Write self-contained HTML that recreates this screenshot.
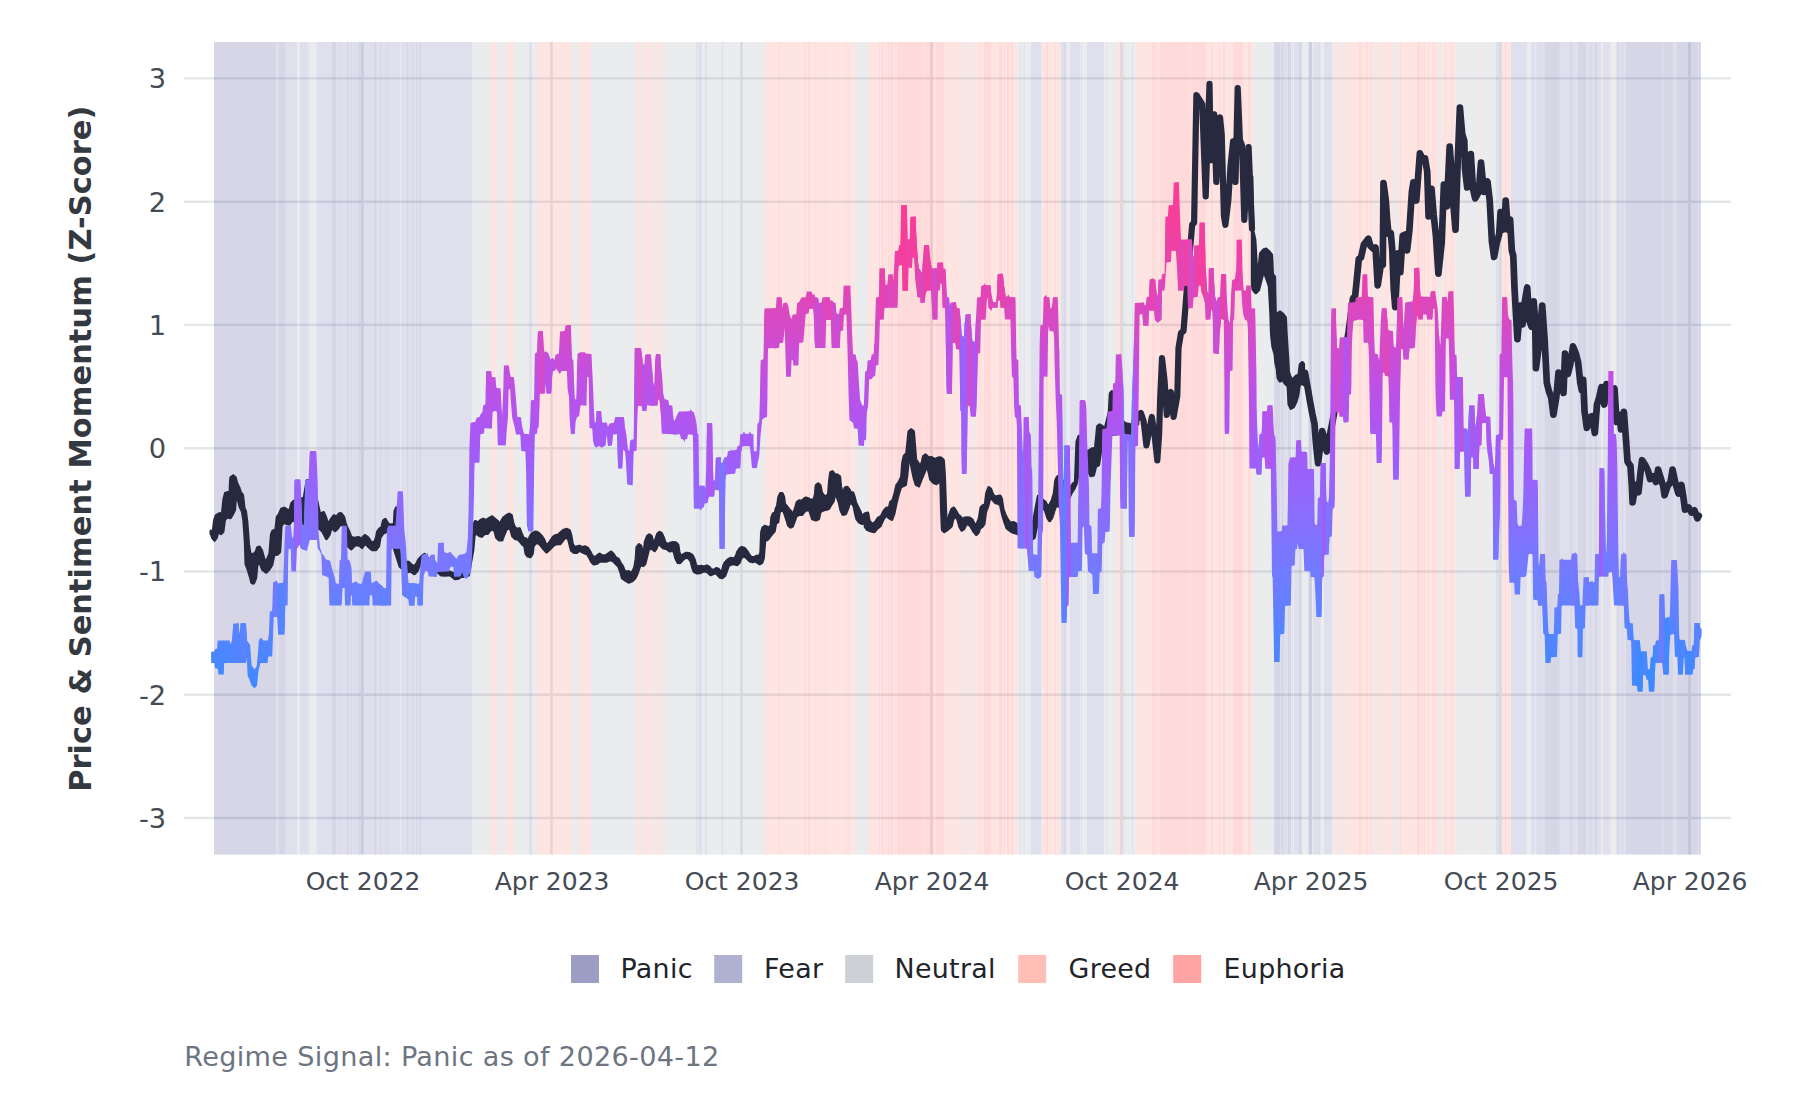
<!DOCTYPE html>
<html lang="en"><head><meta charset="utf-8"><title>Price &amp; Sentiment Momentum</title>
<style>html,body{margin:0;padding:0;background:#fff}body{width:1800px;height:1100px;overflow:hidden}svg{display:block}text{font-family:"DejaVu Sans","Liberation Sans",sans-serif}</style></head><body>
<svg width="1800" height="1100" viewBox="0 0 1800 1100">
<rect width="1800" height="1100" fill="#ffffff"/>
<g stroke="#e3e7ea" stroke-width="2.4" fill="none">
<line x1="184.0" x2="1731.0" y1="818.0" y2="818.0"/>
<line x1="184.0" x2="1731.0" y1="694.7" y2="694.7"/>
<line x1="184.0" x2="1731.0" y1="571.5" y2="571.5"/>
<line x1="184.0" x2="1731.0" y1="448.2" y2="448.2"/>
<line x1="184.0" x2="1731.0" y1="324.9" y2="324.9"/>
<line x1="184.0" x2="1731.0" y1="201.7" y2="201.7"/>
<line x1="184.0" x2="1731.0" y1="78.4" y2="78.4"/>
<line x1="362.5" x2="362.5" y1="42.0" y2="854.6"/>
<line x1="551.5" x2="551.5" y1="42.0" y2="854.6"/>
<line x1="741.5" x2="741.5" y1="42.0" y2="854.6"/>
<line x1="931.5" x2="931.5" y1="42.0" y2="854.6"/>
<line x1="1121.5" x2="1121.5" y1="42.0" y2="854.6"/>
<line x1="1310.5" x2="1310.5" y1="42.0" y2="854.6"/>
<line x1="1500.5" x2="1500.5" y1="42.0" y2="854.6"/>
<line x1="1689.5" x2="1689.5" y1="42.0" y2="854.6"/>
</g>
<g fill-opacity="0.2">
<rect x="214.00" y="42.0" width="62.00" height="812.6" fill="#373287"/>
<rect x="276.00" y="42.0" width="2.90" height="812.6" fill="#6161a3"/>
<rect x="278.90" y="42.0" width="6.40" height="812.6" fill="#373287"/>
<rect x="285.30" y="42.0" width="11.60" height="812.6" fill="#6161a3"/>
<rect x="296.90" y="42.0" width="3.10" height="812.6" fill="#9ba1ab"/>
<rect x="300.00" y="42.0" width="8.00" height="812.6" fill="#6161a3"/>
<rect x="308.00" y="42.0" width="1.20" height="812.6" fill="#9ba1ab"/>
<rect x="309.20" y="42.0" width="0.80" height="812.6" fill="#6161a3"/>
<rect x="310.00" y="42.0" width="6.90" height="812.6" fill="#9ba1ab"/>
<rect x="316.90" y="42.0" width="15.10" height="812.6" fill="#6161a3"/>
<rect x="332.00" y="42.0" width="4.00" height="812.6" fill="#373287"/>
<rect x="336.00" y="42.0" width="3.00" height="812.6" fill="#6161a3"/>
<rect x="339.00" y="42.0" width="0.80" height="812.6" fill="#373287"/>
<rect x="339.80" y="42.0" width="7.30" height="812.6" fill="#6161a3"/>
<rect x="347.10" y="42.0" width="1.80" height="812.6" fill="#373287"/>
<rect x="348.90" y="42.0" width="2.20" height="812.6" fill="#6161a3"/>
<rect x="351.10" y="42.0" width="0.90" height="812.6" fill="#373287"/>
<rect x="352.00" y="42.0" width="3.60" height="812.6" fill="#6161a3"/>
<rect x="355.60" y="42.0" width="0.80" height="812.6" fill="#373287"/>
<rect x="356.40" y="42.0" width="1.80" height="812.6" fill="#6161a3"/>
<rect x="358.20" y="42.0" width="3.10" height="812.6" fill="#373287"/>
<rect x="361.30" y="42.0" width="12.90" height="812.6" fill="#6161a3"/>
<rect x="374.20" y="42.0" width="2.20" height="812.6" fill="#373287"/>
<rect x="376.40" y="42.0" width="3.60" height="812.6" fill="#6161a3"/>
<rect x="380.00" y="42.0" width="0.90" height="812.6" fill="#373287"/>
<rect x="380.90" y="42.0" width="4.40" height="812.6" fill="#6161a3"/>
<rect x="385.30" y="42.0" width="0.90" height="812.6" fill="#373287"/>
<rect x="386.20" y="42.0" width="1.80" height="812.6" fill="#6161a3"/>
<rect x="388.00" y="42.0" width="0.70" height="812.6" fill="#373287"/>
<rect x="388.70" y="42.0" width="11.30" height="812.6" fill="#6161a3"/>
<rect x="400.00" y="42.0" width="0.90" height="812.6" fill="#9ba1ab"/>
<rect x="400.90" y="42.0" width="6.20" height="812.6" fill="#6161a3"/>
<rect x="407.10" y="42.0" width="0.90" height="812.6" fill="#373287"/>
<rect x="408.00" y="42.0" width="4.20" height="812.6" fill="#6161a3"/>
<rect x="412.20" y="42.0" width="0.90" height="812.6" fill="#373287"/>
<rect x="413.10" y="42.0" width="2.90" height="812.6" fill="#6161a3"/>
<rect x="416.00" y="42.0" width="1.30" height="812.6" fill="#373287"/>
<rect x="417.30" y="42.0" width="1.80" height="812.6" fill="#6161a3"/>
<rect x="419.10" y="42.0" width="1.80" height="812.6" fill="#373287"/>
<rect x="420.90" y="42.0" width="50.90" height="812.6" fill="#6161a3"/>
<rect x="471.80" y="42.0" width="17.10" height="812.6" fill="#9ba1ab"/>
<rect x="488.90" y="42.0" width="1.10" height="812.6" fill="#ff7f6f"/>
<rect x="490.00" y="42.0" width="2.00" height="812.6" fill="#9ba1ab"/>
<rect x="492.00" y="42.0" width="4.10" height="812.6" fill="#ff7f6f"/>
<rect x="496.10" y="42.0" width="1.90" height="812.6" fill="#9ba1ab"/>
<rect x="498.00" y="42.0" width="1.10" height="812.6" fill="#ff7f6f"/>
<rect x="499.10" y="42.0" width="6.90" height="812.6" fill="#9ba1ab"/>
<rect x="506.00" y="42.0" width="8.00" height="812.6" fill="#ff7f6f"/>
<rect x="514.00" y="42.0" width="15.20" height="812.6" fill="#9ba1ab"/>
<rect x="529.20" y="42.0" width="2.80" height="812.6" fill="#6161a3"/>
<rect x="532.00" y="42.0" width="4.90" height="812.6" fill="#9ba1ab"/>
<rect x="536.90" y="42.0" width="35.10" height="812.6" fill="#ff7f6f"/>
<rect x="572.00" y="42.0" width="6.80" height="812.6" fill="#9ba1ab"/>
<rect x="578.80" y="42.0" width="5.20" height="812.6" fill="#ff7f6f"/>
<rect x="584.00" y="42.0" width="1.10" height="812.6" fill="#9ba1ab"/>
<rect x="585.10" y="42.0" width="5.80" height="812.6" fill="#ff7f6f"/>
<rect x="590.90" y="42.0" width="45.10" height="812.6" fill="#9ba1ab"/>
<rect x="636.00" y="42.0" width="5.10" height="812.6" fill="#ff7f6f"/>
<rect x="641.10" y="42.0" width="1.10" height="812.6" fill="#9ba1ab"/>
<rect x="642.20" y="42.0" width="1.80" height="812.6" fill="#ff7f6f"/>
<rect x="644.00" y="42.0" width="2.00" height="812.6" fill="#9ba1ab"/>
<rect x="646.00" y="42.0" width="6.20" height="812.6" fill="#ff7f6f"/>
<rect x="652.20" y="42.0" width="1.80" height="812.6" fill="#9ba1ab"/>
<rect x="654.00" y="42.0" width="1.30" height="812.6" fill="#ff7f6f"/>
<rect x="655.30" y="42.0" width="1.60" height="812.6" fill="#9ba1ab"/>
<rect x="656.90" y="42.0" width="4.20" height="812.6" fill="#ff7f6f"/>
<rect x="661.10" y="42.0" width="0.90" height="812.6" fill="#9ba1ab"/>
<rect x="662.00" y="42.0" width="1.10" height="812.6" fill="#ff7f6f"/>
<rect x="663.10" y="42.0" width="32.90" height="812.6" fill="#9ba1ab"/>
<rect x="696.00" y="42.0" width="1.20" height="812.6" fill="#6161a3"/>
<rect x="697.20" y="42.0" width="1.00" height="812.6" fill="#9ba1ab"/>
<rect x="698.20" y="42.0" width="3.60" height="812.6" fill="#6161a3"/>
<rect x="701.80" y="42.0" width="3.40" height="812.6" fill="#9ba1ab"/>
<rect x="705.20" y="42.0" width="1.70" height="812.6" fill="#6161a3"/>
<rect x="706.90" y="42.0" width="14.90" height="812.6" fill="#9ba1ab"/>
<rect x="721.80" y="42.0" width="1.30" height="812.6" fill="#6161a3"/>
<rect x="723.10" y="42.0" width="39.90" height="812.6" fill="#9ba1ab"/>
<rect x="763.00" y="42.0" width="1.10" height="812.6" fill="#ff7f6f"/>
<rect x="764.10" y="42.0" width="1.80" height="812.6" fill="#9ba1ab"/>
<rect x="765.90" y="42.0" width="12.80" height="812.6" fill="#ff7f6f"/>
<rect x="778.70" y="42.0" width="1.30" height="812.6" fill="#ff4747"/>
<rect x="780.00" y="42.0" width="24.00" height="812.6" fill="#ff7f6f"/>
<rect x="804.00" y="42.0" width="0.90" height="812.6" fill="#ff4747"/>
<rect x="804.90" y="42.0" width="0.90" height="812.6" fill="#ff7f6f"/>
<rect x="805.80" y="42.0" width="0.80" height="812.6" fill="#ff4747"/>
<rect x="806.60" y="42.0" width="1.40" height="812.6" fill="#ff7f6f"/>
<rect x="808.00" y="42.0" width="1.80" height="812.6" fill="#ff4747"/>
<rect x="809.80" y="42.0" width="5.50" height="812.6" fill="#ff7f6f"/>
<rect x="815.30" y="42.0" width="1.10" height="812.6" fill="#ff4747"/>
<rect x="816.40" y="42.0" width="8.90" height="812.6" fill="#ff7f6f"/>
<rect x="825.30" y="42.0" width="0.90" height="812.6" fill="#ff4747"/>
<rect x="826.20" y="42.0" width="19.80" height="812.6" fill="#ff7f6f"/>
<rect x="846.00" y="42.0" width="0.90" height="812.6" fill="#ff4747"/>
<rect x="846.90" y="42.0" width="1.10" height="812.6" fill="#ff7f6f"/>
<rect x="848.00" y="42.0" width="0.70" height="812.6" fill="#ff4747"/>
<rect x="848.70" y="42.0" width="3.30" height="812.6" fill="#ff7f6f"/>
<rect x="852.00" y="42.0" width="1.20" height="812.6" fill="#9ba1ab"/>
<rect x="853.20" y="42.0" width="2.80" height="812.6" fill="#ff7f6f"/>
<rect x="856.00" y="42.0" width="11.80" height="812.6" fill="#9ba1ab"/>
<rect x="867.80" y="42.0" width="11.30" height="812.6" fill="#ff7f6f"/>
<rect x="879.10" y="42.0" width="0.90" height="812.6" fill="#ff4747"/>
<rect x="880.00" y="42.0" width="1.80" height="812.6" fill="#ff7f6f"/>
<rect x="881.80" y="42.0" width="1.90" height="812.6" fill="#ff4747"/>
<rect x="883.70" y="42.0" width="2.50" height="812.6" fill="#ff7f6f"/>
<rect x="886.20" y="42.0" width="0.90" height="812.6" fill="#ff4747"/>
<rect x="887.10" y="42.0" width="0.90" height="812.6" fill="#ff7f6f"/>
<rect x="888.00" y="42.0" width="1.10" height="812.6" fill="#ff4747"/>
<rect x="889.10" y="42.0" width="1.10" height="812.6" fill="#ff7f6f"/>
<rect x="890.20" y="42.0" width="3.10" height="812.6" fill="#ff4747"/>
<rect x="893.30" y="42.0" width="1.80" height="812.6" fill="#ff7f6f"/>
<rect x="895.10" y="42.0" width="0.90" height="812.6" fill="#ff4747"/>
<rect x="896.00" y="42.0" width="0.90" height="812.6" fill="#ff7f6f"/>
<rect x="896.90" y="42.0" width="26.00" height="812.6" fill="#ff4747"/>
<rect x="922.90" y="42.0" width="1.10" height="812.6" fill="#ff7f6f"/>
<rect x="924.00" y="42.0" width="9.80" height="812.6" fill="#ff4747"/>
<rect x="933.80" y="42.0" width="2.00" height="812.6" fill="#ff7f6f"/>
<rect x="935.80" y="42.0" width="8.20" height="812.6" fill="#ff4747"/>
<rect x="944.00" y="42.0" width="19.10" height="812.6" fill="#ff7f6f"/>
<rect x="963.10" y="42.0" width="2.90" height="812.6" fill="#9ba1ab"/>
<rect x="966.00" y="42.0" width="4.90" height="812.6" fill="#ff7f6f"/>
<rect x="970.90" y="42.0" width="1.10" height="812.6" fill="#9ba1ab"/>
<rect x="972.00" y="42.0" width="0.90" height="812.6" fill="#ff7f6f"/>
<rect x="972.90" y="42.0" width="2.00" height="812.6" fill="#9ba1ab"/>
<rect x="974.90" y="42.0" width="5.10" height="812.6" fill="#ff7f6f"/>
<rect x="980.00" y="42.0" width="0.90" height="812.6" fill="#ff4747"/>
<rect x="980.90" y="42.0" width="3.10" height="812.6" fill="#ff7f6f"/>
<rect x="984.00" y="42.0" width="7.10" height="812.6" fill="#ff4747"/>
<rect x="991.10" y="42.0" width="7.70" height="812.6" fill="#ff7f6f"/>
<rect x="998.80" y="42.0" width="3.20" height="812.6" fill="#ff4747"/>
<rect x="1002.00" y="42.0" width="2.00" height="812.6" fill="#ff7f6f"/>
<rect x="1004.00" y="42.0" width="1.10" height="812.6" fill="#ff4747"/>
<rect x="1005.10" y="42.0" width="2.00" height="812.6" fill="#ff7f6f"/>
<rect x="1007.10" y="42.0" width="2.00" height="812.6" fill="#ff4747"/>
<rect x="1009.10" y="42.0" width="2.00" height="812.6" fill="#ff7f6f"/>
<rect x="1011.10" y="42.0" width="1.80" height="812.6" fill="#ff4747"/>
<rect x="1012.90" y="42.0" width="4.30" height="812.6" fill="#ff7f6f"/>
<rect x="1017.20" y="42.0" width="2.80" height="812.6" fill="#9ba1ab"/>
<rect x="1020.00" y="42.0" width="0.90" height="812.6" fill="#6161a3"/>
<rect x="1020.90" y="42.0" width="2.90" height="812.6" fill="#9ba1ab"/>
<rect x="1023.80" y="42.0" width="0.90" height="812.6" fill="#6161a3"/>
<rect x="1024.70" y="42.0" width="6.40" height="812.6" fill="#9ba1ab"/>
<rect x="1031.10" y="42.0" width="10.00" height="812.6" fill="#6161a3"/>
<rect x="1041.10" y="42.0" width="0.90" height="812.6" fill="#9ba1ab"/>
<rect x="1042.00" y="42.0" width="4.00" height="812.6" fill="#ff7f6f"/>
<rect x="1046.00" y="42.0" width="2.00" height="812.6" fill="#ff4747"/>
<rect x="1048.00" y="42.0" width="6.90" height="812.6" fill="#ff7f6f"/>
<rect x="1054.90" y="42.0" width="1.10" height="812.6" fill="#ff4747"/>
<rect x="1056.00" y="42.0" width="2.90" height="812.6" fill="#ff7f6f"/>
<rect x="1058.90" y="42.0" width="1.10" height="812.6" fill="#9ba1ab"/>
<rect x="1060.00" y="42.0" width="1.10" height="812.6" fill="#ff7f6f"/>
<rect x="1061.10" y="42.0" width="2.90" height="812.6" fill="#6161a3"/>
<rect x="1064.00" y="42.0" width="1.00" height="812.6" fill="#373287"/>
<rect x="1065.00" y="42.0" width="1.90" height="812.6" fill="#6161a3"/>
<rect x="1066.90" y="42.0" width="3.30" height="812.6" fill="#9ba1ab"/>
<rect x="1070.20" y="42.0" width="9.80" height="812.6" fill="#6161a3"/>
<rect x="1080.00" y="42.0" width="0.90" height="812.6" fill="#9ba1ab"/>
<rect x="1080.90" y="42.0" width="0.90" height="812.6" fill="#6161a3"/>
<rect x="1081.80" y="42.0" width="5.30" height="812.6" fill="#9ba1ab"/>
<rect x="1087.10" y="42.0" width="16.70" height="812.6" fill="#6161a3"/>
<rect x="1103.80" y="42.0" width="3.00" height="812.6" fill="#9ba1ab"/>
<rect x="1106.80" y="42.0" width="0.90" height="812.6" fill="#6161a3"/>
<rect x="1107.70" y="42.0" width="8.30" height="812.6" fill="#9ba1ab"/>
<rect x="1116.00" y="42.0" width="1.20" height="812.6" fill="#ff7f6f"/>
<rect x="1117.20" y="42.0" width="1.00" height="812.6" fill="#9ba1ab"/>
<rect x="1118.20" y="42.0" width="3.60" height="812.6" fill="#ff7f6f"/>
<rect x="1121.80" y="42.0" width="1.80" height="812.6" fill="#9ba1ab"/>
<rect x="1123.60" y="42.0" width="1.00" height="812.6" fill="#6161a3"/>
<rect x="1124.60" y="42.0" width="7.40" height="812.6" fill="#9ba1ab"/>
<rect x="1132.00" y="42.0" width="1.00" height="812.6" fill="#6161a3"/>
<rect x="1133.00" y="42.0" width="3.00" height="812.6" fill="#9ba1ab"/>
<rect x="1136.00" y="42.0" width="16.00" height="812.6" fill="#ff7f6f"/>
<rect x="1152.00" y="42.0" width="2.80" height="812.6" fill="#ff4747"/>
<rect x="1154.80" y="42.0" width="1.20" height="812.6" fill="#ff7f6f"/>
<rect x="1156.00" y="42.0" width="1.20" height="812.6" fill="#ff4747"/>
<rect x="1157.20" y="42.0" width="2.80" height="812.6" fill="#ff7f6f"/>
<rect x="1160.00" y="42.0" width="30.00" height="812.6" fill="#ff4747"/>
<rect x="1190.00" y="42.0" width="1.10" height="812.6" fill="#ff7f6f"/>
<rect x="1191.10" y="42.0" width="14.90" height="812.6" fill="#ff4747"/>
<rect x="1206.00" y="42.0" width="4.90" height="812.6" fill="#ff7f6f"/>
<rect x="1210.90" y="42.0" width="1.80" height="812.6" fill="#ff4747"/>
<rect x="1212.70" y="42.0" width="6.40" height="812.6" fill="#ff7f6f"/>
<rect x="1219.10" y="42.0" width="0.90" height="812.6" fill="#ff4747"/>
<rect x="1220.00" y="42.0" width="3.10" height="812.6" fill="#ff7f6f"/>
<rect x="1223.10" y="42.0" width="2.10" height="812.6" fill="#ff4747"/>
<rect x="1225.20" y="42.0" width="1.70" height="812.6" fill="#ff7f6f"/>
<rect x="1226.90" y="42.0" width="1.10" height="812.6" fill="#9ba1ab"/>
<rect x="1228.00" y="42.0" width="5.10" height="812.6" fill="#ff7f6f"/>
<rect x="1233.10" y="42.0" width="10.00" height="812.6" fill="#ff4747"/>
<rect x="1243.10" y="42.0" width="4.90" height="812.6" fill="#ff7f6f"/>
<rect x="1248.00" y="42.0" width="2.20" height="812.6" fill="#ff4747"/>
<rect x="1250.20" y="42.0" width="2.00" height="812.6" fill="#ff7f6f"/>
<rect x="1252.20" y="42.0" width="0.90" height="812.6" fill="#9ba1ab"/>
<rect x="1253.10" y="42.0" width="0.90" height="812.6" fill="#ff7f6f"/>
<rect x="1254.00" y="42.0" width="20.20" height="812.6" fill="#9ba1ab"/>
<rect x="1274.20" y="42.0" width="5.80" height="812.6" fill="#373287"/>
<rect x="1280.00" y="42.0" width="1.30" height="812.6" fill="#6161a3"/>
<rect x="1281.30" y="42.0" width="2.30" height="812.6" fill="#373287"/>
<rect x="1283.60" y="42.0" width="4.40" height="812.6" fill="#6161a3"/>
<rect x="1288.00" y="42.0" width="2.90" height="812.6" fill="#373287"/>
<rect x="1290.90" y="42.0" width="1.10" height="812.6" fill="#9ba1ab"/>
<rect x="1292.00" y="42.0" width="1.10" height="812.6" fill="#6161a3"/>
<rect x="1293.10" y="42.0" width="0.90" height="812.6" fill="#9ba1ab"/>
<rect x="1294.00" y="42.0" width="5.10" height="812.6" fill="#6161a3"/>
<rect x="1299.10" y="42.0" width="2.70" height="812.6" fill="#373287"/>
<rect x="1301.80" y="42.0" width="6.20" height="812.6" fill="#9ba1ab"/>
<rect x="1308.00" y="42.0" width="4.00" height="812.6" fill="#6161a3"/>
<rect x="1312.00" y="42.0" width="0.90" height="812.6" fill="#9ba1ab"/>
<rect x="1312.90" y="42.0" width="6.70" height="812.6" fill="#6161a3"/>
<rect x="1319.60" y="42.0" width="0.80" height="812.6" fill="#373287"/>
<rect x="1320.40" y="42.0" width="3.60" height="812.6" fill="#9ba1ab"/>
<rect x="1324.00" y="42.0" width="8.00" height="812.6" fill="#6161a3"/>
<rect x="1332.00" y="42.0" width="2.00" height="812.6" fill="#9ba1ab"/>
<rect x="1334.00" y="42.0" width="4.90" height="812.6" fill="#ff7f6f"/>
<rect x="1338.90" y="42.0" width="1.10" height="812.6" fill="#9ba1ab"/>
<rect x="1340.00" y="42.0" width="1.10" height="812.6" fill="#ff7f6f"/>
<rect x="1341.10" y="42.0" width="2.00" height="812.6" fill="#9ba1ab"/>
<rect x="1343.10" y="42.0" width="2.90" height="812.6" fill="#ff7f6f"/>
<rect x="1346.00" y="42.0" width="0.90" height="812.6" fill="#9ba1ab"/>
<rect x="1346.90" y="42.0" width="12.20" height="812.6" fill="#ff7f6f"/>
<rect x="1359.10" y="42.0" width="2.70" height="812.6" fill="#ff4747"/>
<rect x="1361.80" y="42.0" width="3.50" height="812.6" fill="#ff7f6f"/>
<rect x="1365.30" y="42.0" width="0.90" height="812.6" fill="#ff4747"/>
<rect x="1366.20" y="42.0" width="0.90" height="812.6" fill="#ff7f6f"/>
<rect x="1367.10" y="42.0" width="0.90" height="812.6" fill="#ff4747"/>
<rect x="1368.00" y="42.0" width="2.80" height="812.6" fill="#ff7f6f"/>
<rect x="1370.80" y="42.0" width="1.20" height="812.6" fill="#ff4747"/>
<rect x="1372.00" y="42.0" width="1.10" height="812.6" fill="#ff7f6f"/>
<rect x="1373.10" y="42.0" width="2.00" height="812.6" fill="#9ba1ab"/>
<rect x="1375.10" y="42.0" width="4.00" height="812.6" fill="#ff7f6f"/>
<rect x="1379.10" y="42.0" width="2.00" height="812.6" fill="#9ba1ab"/>
<rect x="1381.10" y="42.0" width="11.10" height="812.6" fill="#ff7f6f"/>
<rect x="1392.20" y="42.0" width="0.90" height="812.6" fill="#9ba1ab"/>
<rect x="1393.10" y="42.0" width="1.10" height="812.6" fill="#ff7f6f"/>
<rect x="1394.20" y="42.0" width="3.80" height="812.6" fill="#9ba1ab"/>
<rect x="1398.00" y="42.0" width="2.00" height="812.6" fill="#ff7f6f"/>
<rect x="1400.00" y="42.0" width="0.90" height="812.6" fill="#ff4747"/>
<rect x="1400.90" y="42.0" width="16.20" height="812.6" fill="#ff7f6f"/>
<rect x="1417.10" y="42.0" width="2.90" height="812.6" fill="#ff4747"/>
<rect x="1420.00" y="42.0" width="1.80" height="812.6" fill="#ff7f6f"/>
<rect x="1421.80" y="42.0" width="0.90" height="812.6" fill="#ff4747"/>
<rect x="1422.70" y="42.0" width="1.30" height="812.6" fill="#ff7f6f"/>
<rect x="1424.00" y="42.0" width="0.90" height="812.6" fill="#ff4747"/>
<rect x="1424.90" y="42.0" width="3.10" height="812.6" fill="#ff7f6f"/>
<rect x="1428.00" y="42.0" width="0.90" height="812.6" fill="#ff4747"/>
<rect x="1428.90" y="42.0" width="4.00" height="812.6" fill="#ff7f6f"/>
<rect x="1432.90" y="42.0" width="1.10" height="812.6" fill="#ff4747"/>
<rect x="1434.00" y="42.0" width="1.10" height="812.6" fill="#ff7f6f"/>
<rect x="1435.10" y="42.0" width="0.90" height="812.6" fill="#ff4747"/>
<rect x="1436.00" y="42.0" width="2.00" height="812.6" fill="#ff7f6f"/>
<rect x="1438.00" y="42.0" width="3.10" height="812.6" fill="#9ba1ab"/>
<rect x="1441.10" y="42.0" width="2.00" height="812.6" fill="#ff7f6f"/>
<rect x="1443.10" y="42.0" width="0.90" height="812.6" fill="#9ba1ab"/>
<rect x="1444.00" y="42.0" width="0.90" height="812.6" fill="#ff7f6f"/>
<rect x="1444.90" y="42.0" width="1.10" height="812.6" fill="#ff4747"/>
<rect x="1446.00" y="42.0" width="5.10" height="812.6" fill="#ff7f6f"/>
<rect x="1451.10" y="42.0" width="1.30" height="812.6" fill="#ff4747"/>
<rect x="1452.40" y="42.0" width="0.70" height="812.6" fill="#ff7f6f"/>
<rect x="1453.10" y="42.0" width="1.10" height="812.6" fill="#9ba1ab"/>
<rect x="1454.20" y="42.0" width="1.80" height="812.6" fill="#ff7f6f"/>
<rect x="1456.00" y="42.0" width="4.00" height="812.6" fill="#9ba1ab"/>
<rect x="1460.00" y="42.0" width="1.10" height="812.6" fill="#ff7f6f"/>
<rect x="1461.10" y="42.0" width="19.80" height="812.6" fill="#9ba1ab"/>
<rect x="1480.90" y="42.0" width="1.10" height="812.6" fill="#ff7f6f"/>
<rect x="1482.00" y="42.0" width="14.00" height="812.6" fill="#9ba1ab"/>
<rect x="1496.00" y="42.0" width="3.10" height="812.6" fill="#6161a3"/>
<rect x="1499.10" y="42.0" width="2.90" height="812.6" fill="#9ba1ab"/>
<rect x="1502.00" y="42.0" width="2.90" height="812.6" fill="#ff7f6f"/>
<rect x="1504.90" y="42.0" width="1.10" height="812.6" fill="#ff4747"/>
<rect x="1506.00" y="42.0" width="5.10" height="812.6" fill="#ff7f6f"/>
<rect x="1511.10" y="42.0" width="15.70" height="812.6" fill="#6161a3"/>
<rect x="1526.80" y="42.0" width="4.30" height="812.6" fill="#9ba1ab"/>
<rect x="1531.10" y="42.0" width="4.00" height="812.6" fill="#6161a3"/>
<rect x="1535.10" y="42.0" width="1.10" height="812.6" fill="#9ba1ab"/>
<rect x="1536.20" y="42.0" width="3.80" height="812.6" fill="#6161a3"/>
<rect x="1540.00" y="42.0" width="0.90" height="812.6" fill="#373287"/>
<rect x="1540.90" y="42.0" width="4.00" height="812.6" fill="#6161a3"/>
<rect x="1544.90" y="42.0" width="14.80" height="812.6" fill="#373287"/>
<rect x="1559.70" y="42.0" width="10.50" height="812.6" fill="#6161a3"/>
<rect x="1570.20" y="42.0" width="2.00" height="812.6" fill="#373287"/>
<rect x="1572.20" y="42.0" width="5.80" height="812.6" fill="#6161a3"/>
<rect x="1578.00" y="42.0" width="8.00" height="812.6" fill="#373287"/>
<rect x="1586.00" y="42.0" width="4.00" height="812.6" fill="#6161a3"/>
<rect x="1590.00" y="42.0" width="1.10" height="812.6" fill="#373287"/>
<rect x="1591.10" y="42.0" width="3.80" height="812.6" fill="#6161a3"/>
<rect x="1594.90" y="42.0" width="2.00" height="812.6" fill="#373287"/>
<rect x="1596.90" y="42.0" width="4.00" height="812.6" fill="#6161a3"/>
<rect x="1600.90" y="42.0" width="2.20" height="812.6" fill="#9ba1ab"/>
<rect x="1603.10" y="42.0" width="7.20" height="812.6" fill="#6161a3"/>
<rect x="1610.30" y="42.0" width="0.60" height="812.6" fill="#9ba1ab"/>
<rect x="1610.90" y="42.0" width="1.10" height="812.6" fill="#ff7f6f"/>
<rect x="1612.00" y="42.0" width="4.00" height="812.6" fill="#9ba1ab"/>
<rect x="1616.00" y="42.0" width="2.00" height="812.6" fill="#6161a3"/>
<rect x="1618.00" y="42.0" width="0.90" height="812.6" fill="#373287"/>
<rect x="1618.90" y="42.0" width="3.10" height="812.6" fill="#6161a3"/>
<rect x="1622.00" y="42.0" width="0.90" height="812.6" fill="#373287"/>
<rect x="1622.90" y="42.0" width="3.10" height="812.6" fill="#6161a3"/>
<rect x="1626.00" y="42.0" width="36.40" height="812.6" fill="#373287"/>
<rect x="1662.40" y="42.0" width="0.90" height="812.6" fill="#6161a3"/>
<rect x="1663.30" y="42.0" width="9.60" height="812.6" fill="#373287"/>
<rect x="1672.90" y="42.0" width="4.00" height="812.6" fill="#6161a3"/>
<rect x="1676.90" y="42.0" width="21.10" height="812.6" fill="#373287"/>
<rect x="1698.00" y="42.0" width="1.00" height="812.6" fill="#6161a3"/>
<rect x="1699.00" y="42.0" width="1.90" height="812.6" fill="#373287"/>
</g>
<defs><linearGradient id="sg" gradientUnits="userSpaceOnUse" x1="0" y1="694.7" x2="0" y2="201.7"><stop offset="0" stop-color="#3b8aff"/><stop offset="0.125" stop-color="#5584ff"/><stop offset="0.25" stop-color="#727bff"/><stop offset="0.375" stop-color="#8c6cfc"/><stop offset="0.5" stop-color="#a45af8"/><stop offset="0.625" stop-color="#bd51e6"/><stop offset="0.75" stop-color="#d64ac6"/><stop offset="0.875" stop-color="#ea42ab"/><stop offset="1" stop-color="#f93d97"/></linearGradient></defs>
<path d="M210.8 530.9L211.6 532.1L211.8 532.3L212.8 531.6L213.1 530.9L214.3 520.9L214.6 519.5L215.8 515.8L216.1 515.4L219.6 513.3L222.1 514.0L222.3 512.5L223.6 500.0L223.8 498.7L225.3 493.1L225.6 492.9L228.1 492.3L228.3 492.3L229.6 494.8L229.8 492.9L230.3 480.9L230.6 477.6L233.3 475.5L233.8 475.9L235.3 477.4L235.6 477.8L236.8 482.8L237.1 483.6L239.1 487.6L239.3 488.3L240.6 492.0L240.8 492.5L242.8 495.1L244.1 506.4L244.3 508.3L245.6 510.8L245.8 511.8L247.1 521.8L247.3 524.7L248.6 542.2L248.8 544.4L250.1 553.1L250.3 553.4L252.8 554.7L253.1 554.7L255.8 551.9L256.1 551.4L257.3 547.6L257.6 547.4L259.6 546.8L261.6 550.1L261.8 550.7L264.6 560.3L264.8 560.6L266.8 560.6L269.6 553.7L269.8 552.1L271.1 535.9L271.3 534.0L272.6 530.9L272.8 530.7L275.3 530.1L275.6 529.8L276.8 518.6L277.1 516.8L279.1 514.2L279.3 513.7L281.3 509.0L281.8 508.8L284.3 507.9L288.1 510.3L289.3 511.1L289.6 510.4L291.3 504.0L291.6 503.1L293.6 501.1L293.8 500.9L303.8 498.1L304.1 497.1L306.8 480.6L312.6 480.6L312.8 481.4L319.8 513.6L320.1 514.0L323.3 512.4L323.6 512.3L325.6 516.6L325.8 517.2L327.8 523.9L328.1 524.0L331.6 518.4L333.6 515.7L333.8 515.5L336.6 516.9L336.8 516.7L338.8 513.7L340.8 513.3L341.1 513.4L343.8 516.8L344.1 517.6L345.3 522.6L346.8 527.1L349.1 531.7L351.1 537.0L351.3 537.3L354.8 538.0L358.3 537.3L358.8 537.5L361.3 538.7L362.1 538.0L364.8 535.3L365.1 535.2L367.8 537.2L368.6 538.3L370.8 541.7L373.6 543.0L373.8 542.9L375.8 538.9L376.1 538.0L377.3 531.7L377.6 531.2L379.6 528.6L381.6 527.2L381.8 526.7L383.1 521.1L383.3 520.5L385.3 519.1L385.6 519.5L387.6 522.8L389.6 524.8L389.8 524.9L394.1 524.2L394.3 520.1L394.8 511.1L396.1 508.0L396.3 507.6L399.1 513.8L399.3 517.6L400.6 550.1L400.8 552.2L406.3 561.8L406.6 562.0L408.6 562.0L409.3 562.7L411.6 564.9L414.3 566.3L414.6 566.2L416.6 563.6L418.8 559.1L421.8 556.1L424.6 554.1L424.8 554.7L425.1 555.4L438.1 567.6L454.1 573.5L467.1 572.0L467.3 570.1L468.6 552.6L468.8 550.0L470.1 538.8L470.3 537.7L473.6 524.7L473.8 523.8L475.1 521.3L475.3 521.2L478.1 522.6L480.3 520.4L483.1 519.0L483.3 519.0L486.1 520.4L489.3 518.0L491.8 516.5L492.1 516.6L495.3 519.3L497.8 521.2L499.8 523.9L500.1 523.7L501.3 521.2L503.6 517.5L506.6 515.2L509.3 513.9L511.3 515.1L511.6 515.4L512.8 521.7L513.1 522.8L514.3 526.5L514.6 527.0L516.6 529.0L517.1 529.0L519.3 528.4L519.6 528.5L521.6 533.8L521.8 534.4L523.8 538.4L524.1 538.6L526.1 538.6L528.1 541.2L528.3 541.3L529.6 537.6L529.8 537.0L531.8 533.6L532.1 533.4L535.6 531.7L538.3 532.7L538.8 533.1L541.3 535.6L544.1 539.7L544.3 540.2L545.6 543.9L545.8 544.4L547.8 544.4L548.1 544.2L550.3 541.1L553.1 537.1L555.1 535.5L555.8 535.3L558.1 534.9L561.1 532.0L563.8 529.9L566.8 529.1L569.6 530.5L569.8 530.9L571.1 535.3L571.3 536.5L572.6 544.0L572.8 544.6L574.8 547.3L579.1 545.9L579.6 546.0L582.1 547.3L585.1 546.6L587.8 548.0L588.1 548.3L590.1 551.6L592.1 555.6L592.3 556.0L595.1 557.4L595.3 557.3L597.3 555.3L599.6 553.9L602.3 555.6L602.6 555.7L606.1 555.3L609.8 552.6L611.1 551.7L611.3 551.8L613.3 553.8L615.6 557.5L618.3 558.9L618.6 559.2L620.6 563.2L622.8 566.2L624.1 570.0L624.3 570.6L626.3 571.9L626.6 572.0L628.6 571.3L629.1 571.7L630.8 573.5L633.1 570.4L634.3 567.9L634.6 567.0L635.8 559.5L636.1 556.4L636.6 548.4L636.8 547.1L638.8 544.4L640.8 545.7L641.1 546.1L642.3 551.1L642.6 551.8L643.8 553.0L644.1 551.5L644.8 543.9L645.1 541.8L647.1 536.5L647.3 536.1L649.3 534.5L650.1 535.0L651.3 536.0L651.6 536.3L652.8 541.3L653.1 542.0L655.1 540.6L655.3 540.2L657.3 534.2L657.8 533.6L659.6 532.1L661.6 533.2L661.8 533.5L663.6 537.5L665.3 542.6L665.6 542.9L668.3 544.2L670.3 542.8L671.1 542.7L673.3 542.3L676.3 542.8L678.1 544.8L678.3 546.0L679.1 551.4L679.3 552.5L680.6 555.7L680.8 555.8L686.3 553.0L686.8 553.0L689.3 553.4L692.1 555.0L692.3 555.2L694.3 559.2L694.6 559.9L695.8 564.9L696.1 565.4L698.1 566.7L701.1 566.0L703.8 566.7L705.3 566.2L706.8 565.6L709.1 566.8L711.1 569.5L711.3 569.7L714.1 569.7L716.3 568.2L718.3 568.9L718.6 569.1L720.6 571.8L720.8 571.8L722.1 571.1L722.6 569.2L723.6 565.3L724.8 562.8L725.1 562.3L727.8 559.6L730.8 558.0L733.6 558.7L733.8 558.7L735.8 556.7L736.1 556.1L737.3 552.3L738.6 550.2L739.6 548.6L741.6 547.2L741.8 547.1L744.6 548.1L746.3 550.2L746.8 550.8L749.1 554.5L751.1 557.1L751.3 557.3L754.1 557.3L756.8 555.9L757.1 555.9L759.1 556.5L759.3 556.2L760.6 552.4L760.8 547.1L761.3 533.1L761.6 531.2L762.8 527.5L764.8 526.1L765.1 526.1L768.6 527.5L769.3 527.0L770.8 526.0L771.3 520.0L771.6 517.2L772.8 514.1L773.1 513.6L775.1 513.0L775.3 512.1L775.8 509.1L776.1 508.3L777.3 505.8L777.6 504.1L778.3 498.5L778.6 496.9L780.1 493.7L780.3 493.3L782.3 493.3L782.6 493.6L783.8 496.7L784.1 498.4L784.6 502.9L784.8 503.7L789.1 509.4L791.1 511.4L791.3 511.8L792.6 514.3L792.8 514.0L794.1 511.5L795.6 507.0L796.8 502.7L797.1 502.0L799.1 500.6L799.3 500.6L801.3 501.3L802.6 500.1L803.6 499.1L805.6 497.8L805.8 497.7L808.1 498.5L810.8 499.8L813.6 499.8L813.8 499.5L815.1 494.5L815.3 492.4L815.8 486.4L816.1 485.2L818.1 483.6L820.1 485.1L820.3 485.5L821.6 491.8L821.8 492.7L823.8 495.4L825.1 496.3L826.1 496.9L828.1 494.3L828.3 493.5L829.3 481.0L829.6 478.5L830.3 473.2L830.6 472.2L832.6 471.5L832.8 471.7L834.8 474.4L837.6 474.8L837.8 474.9L839.8 476.5L840.1 478.5L840.6 484.5L840.8 486.2L842.1 492.5L842.3 492.3L843.6 491.1L844.8 487.9L845.1 487.5L847.1 487.1L847.3 487.2L849.3 489.6L850.8 492.6L852.8 492.6L853.1 492.8L854.3 496.5L854.6 497.4L855.8 502.4L856.1 503.1L860.3 511.6L861.6 515.4L861.8 515.8L864.1 514.3L865.1 513.5L867.8 512.8L868.1 513.6L869.3 520.5L869.6 521.0L872.1 524.1L872.3 524.4L875.1 522.3L875.6 521.6L878.1 517.9L880.8 516.5L881.1 516.3L883.8 510.8L884.3 510.2L886.8 507.7L888.8 508.3L889.1 508.1L890.3 502.5L890.6 501.8L892.6 500.4L892.8 499.8L894.8 493.1L896.1 486.9L896.3 485.8L899.1 481.7L901.1 477.7L901.3 477.2L901.6 474.5L902.3 464.9L902.6 462.0L903.8 456.4L904.1 455.6L906.3 453.6L906.6 452.3L908.6 432.3L908.8 431.5L911.1 429.6L911.3 429.5L913.6 431.5L913.8 432.8L914.8 445.7L915.8 458.2L916.1 459.6L920.1 466.2L920.3 466.5L921.8 462.7L922.1 462.0L923.1 457.0L923.3 456.3L925.3 454.7L926.1 455.2L927.8 456.7L928.8 457.7L929.1 457.8L931.1 457.2L931.3 457.2L933.3 458.5L935.6 459.3L937.8 457.8L940.6 457.6L941.6 458.3L943.3 459.8L943.6 460.4L944.6 474.7L944.8 479.8L945.3 493.9L946.1 516.4L946.3 519.4L947.8 520.7L948.1 520.1L949.3 515.1L950.6 511.7L951.6 509.1L953.6 507.8L953.8 507.8L955.8 510.5L957.1 512.9L958.1 514.9L960.3 516.5L962.3 519.1L962.6 519.2L964.6 517.9L966.8 517.6L969.6 517.8L969.8 517.9L972.6 520.0L972.8 520.5L974.8 525.1L976.8 523.8L977.1 523.5L979.1 518.1L979.3 516.9L980.6 508.1L980.8 507.5L982.8 505.5L984.8 504.8L985.1 504.2L986.3 494.2L986.6 492.8L988.6 487.5L988.8 487.4L990.8 488.8L992.8 494.1L993.1 494.6L995.1 496.6L995.3 496.7L998.6 496.0L1000.1 495.8L1000.3 495.8L1001.6 498.6L1001.8 499.6L1003.1 508.3L1003.3 509.5L1005.3 514.8L1007.6 519.3L1010.3 522.8L1010.6 522.9L1013.3 522.2L1016.1 523.6L1016.3 523.8L1016.8 525.8L1017.1 526.6L1025.3 529.6L1030.8 532.4L1033.6 520.0L1033.8 518.8L1038.1 496.1L1038.3 496.1L1040.8 497.4L1041.1 497.6L1043.1 500.2L1043.6 500.6L1045.3 501.8L1046.6 504.3L1047.6 506.2L1049.6 504.9L1049.8 504.6L1051.8 500.6L1052.1 499.9L1054.1 493.2L1054.3 491.1L1055.3 482.1L1055.6 480.0L1056.8 477.5L1057.1 477.1L1058.3 475.8L1058.6 475.8L1068.6 488.7L1068.8 488.6L1071.6 485.8L1073.6 483.1L1073.8 482.9L1075.1 482.5L1075.3 478.7L1076.6 443.8L1076.8 441.4L1078.8 436.0L1083.1 444.5L1083.3 445.4L1084.8 452.3L1085.1 453.1L1088.3 451.1L1091.6 448.8L1095.1 448.1L1095.3 446.7L1096.3 437.4L1097.3 426.7L1097.6 426.0L1099.6 424.5L1102.3 426.1L1102.6 426.4L1104.6 429.7L1104.8 429.1L1108.8 413.1L1109.1 411.1L1109.8 397.2L1110.1 393.4L1111.8 391.4L1112.1 391.5L1114.1 393.5L1115.3 398.0L1118.3 409.0L1118.6 409.8L1122.8 421.1L1125.1 423.3L1128.6 424.0L1131.3 425.4L1131.6 425.4L1132.8 420.4L1133.1 419.5L1135.1 415.5L1135.3 415.2L1138.1 412.1L1138.1 424.2L1137.8 424.2L1137.3 424.4L1133.1 432.9L1132.8 433.1L1128.6 434.5L1124.3 433.1L1102.6 436.0L1102.3 437.3L1101.1 449.8L1100.8 451.7L1098.8 465.1L1096.1 466.4L1095.8 466.9L1093.8 474.9L1093.6 475.3L1090.8 476.0L1088.6 472.2L1085.1 465.2L1084.8 464.9L1079.6 459.6L1079.3 462.2L1078.3 473.4L1078.1 476.1L1076.8 482.3L1076.6 483.4L1074.6 488.1L1074.3 488.5L1071.6 492.7L1068.8 498.8L1068.6 499.3L1058.6 506.4L1058.3 506.4L1056.3 505.1L1056.1 505.6L1054.1 511.0L1052.1 517.6L1051.8 518.3L1049.8 520.9L1049.6 520.9L1047.6 518.2L1045.8 512.4L1045.3 510.8L1043.6 508.5L1043.1 507.9L1041.1 506.6L1040.8 507.0L1038.8 512.3L1036.8 525.7L1036.6 527.2L1034.6 537.2L1034.3 537.9L1032.3 539.2L1025.3 537.2L1016.6 533.6L1013.6 532.8L1010.6 531.3L1006.8 528.3L1004.6 522.3L1002.6 515.6L1002.3 514.6L1000.3 505.3L1000.1 504.9L998.1 503.6L995.3 502.9L995.1 502.7L992.3 499.3L990.3 497.9L990.1 497.9L988.1 505.9L987.8 506.8L985.8 512.1L985.6 513.6L984.3 523.6L984.1 524.2L982.1 526.9L980.1 528.2L979.8 528.6L978.6 532.4L978.3 532.8L976.3 534.8L976.1 534.6L973.3 531.2L970.6 526.4L970.3 526.0L968.3 524.0L968.1 524.0L966.1 524.7L964.1 528.7L963.8 529.1L961.8 530.5L961.6 530.3L959.6 526.9L957.6 519.6L957.3 518.8L955.3 516.8L955.1 516.9L953.1 519.5L952.8 520.4L951.6 526.1L951.3 526.4L949.6 528.1L947.3 529.9L944.3 531.9L944.1 531.8L942.3 530.0L942.1 529.2L941.6 517.2L941.3 510.5L940.8 490.5L940.6 483.2L939.3 481.9L939.1 481.9L936.3 483.9L936.1 483.9L933.3 482.5L930.6 479.7L930.3 479.0L929.1 473.4L927.6 467.0L927.3 467.2L925.3 470.3L921.1 480.2L918.8 486.2L916.1 484.8L915.8 484.4L913.8 477.7L913.6 476.7L911.8 468.2L910.3 458.2L910.1 456.7L908.8 459.2L908.6 460.3L907.3 473.1L907.1 475.3L905.8 484.1L905.6 484.8L903.1 486.0L900.8 487.5L900.6 487.8L898.8 493.7L898.3 495.4L896.3 503.4L894.1 513.9L892.1 519.2L891.8 519.6L889.1 518.2L888.1 517.2L886.1 515.3L883.6 519.0L883.1 519.9L880.3 526.1L880.1 526.3L877.3 528.4L874.6 531.8L874.3 531.9L871.1 531.3L867.3 529.8L867.1 529.6L865.1 527.0L864.8 524.8L864.6 522.7L861.8 523.7L861.6 523.6L858.8 522.0L856.8 519.3L856.6 518.8L855.3 513.8L855.1 512.7L853.8 506.4L853.6 505.8L851.6 503.1L849.6 503.7L849.3 504.0L848.1 508.3L847.8 509.1L845.8 513.8L845.6 514.0L842.8 514.7L840.8 510.7L840.6 510.0L839.3 503.7L839.1 502.8L837.1 497.4L836.8 496.5L835.6 491.5L835.3 492.5L833.6 500.7L833.3 501.7L832.3 503.0L831.1 504.7L829.1 508.5L828.8 508.7L826.6 509.4L823.3 510.3L820.3 511.8L820.1 512.8L818.8 519.1L816.8 519.9L815.8 520.2L812.3 519.1L812.1 518.4L809.6 510.9L809.3 510.3L806.6 510.1L806.3 510.2L804.3 511.8L802.1 514.7L801.1 514.7L799.1 514.8L796.3 516.1L796.1 516.8L794.8 520.5L792.8 525.9L792.6 526.4L790.6 527.4L790.3 527.4L788.3 525.6L788.1 524.9L786.8 520.5L784.1 512.3L783.8 511.7L781.8 510.4L781.6 510.4L779.6 511.8L779.3 513.4L778.3 520.4L778.1 522.0L776.1 523.3L775.8 523.9L774.6 530.8L774.3 531.6L772.3 533.6L768.3 538.9L767.8 539.5L765.1 540.8L764.8 543.1L763.6 558.1L763.3 559.0L762.1 562.7L760.1 564.0L759.8 564.1L755.6 561.3L752.6 562.0L749.8 561.3L749.6 561.1L745.3 556.9L743.3 556.2L743.1 556.3L741.1 558.3L740.8 558.9L739.6 562.6L739.3 562.9L737.3 564.9L734.6 564.2L731.6 564.2L728.8 565.5L728.6 565.8L727.3 569.6L725.1 575.6L724.8 575.9L722.1 578.0L720.3 577.6L719.8 577.4L718.1 575.4L715.6 572.9L713.6 573.9L710.6 575.0L710.3 574.9L708.3 572.9L706.1 571.1L703.3 571.4L700.3 572.9L696.6 573.1L693.8 571.5L693.6 570.9L692.3 567.2L690.8 561.2L689.3 559.2L688.6 558.3L685.8 557.6L685.6 557.7L682.8 559.8L680.1 562.8L679.8 563.0L677.8 562.7L677.6 562.4L675.6 558.4L674.1 552.5L672.8 550.6L672.6 550.4L669.8 551.3L669.6 551.2L666.8 548.9L663.6 548.2L663.1 548.0L660.3 545.3L658.6 544.1L658.1 543.9L656.8 547.6L656.6 548.2L654.6 550.9L654.3 550.9L651.6 548.2L648.8 549.5L648.6 549.9L645.1 563.9L644.8 564.3L643.3 565.7L643.1 565.8L640.3 565.1L640.1 565.7L637.3 573.9L635.3 577.9L635.1 578.3L632.3 581.0L629.3 582.2L628.6 582.5L625.3 580.5L622.8 578.7L622.1 578.1L621.1 574.1L620.6 572.2L618.6 566.8L618.3 566.4L612.6 560.7L609.8 560.0L609.6 560.1L606.8 561.4L599.6 561.4L597.3 563.6L593.8 564.3L593.6 564.2L591.6 562.2L589.3 557.7L587.3 554.4L587.1 554.1L585.3 553.5L579.3 550.6L579.1 550.6L577.1 552.6L576.8 552.7L574.1 552.7L571.3 550.6L571.1 550.1L568.3 539.1L568.1 538.8L565.8 537.7L565.3 537.5L563.8 539.5L560.3 543.9L560.1 544.0L557.6 544.0L554.6 544.7L554.3 544.8L548.8 550.3L546.6 552.2L546.3 552.1L543.6 549.1L541.3 546.1L538.6 543.4L538.3 543.2L535.6 543.2L533.6 545.9L533.3 546.6L532.8 551.6L532.6 553.5L530.6 556.9L530.3 557.0L527.6 556.3L525.8 553.7L525.6 552.8L524.8 547.5L524.6 546.1L522.8 544.9L522.3 544.5L520.3 541.9L518.1 539.6L515.6 539.0L515.1 538.8L512.3 536.0L512.1 535.2L510.8 530.2L508.8 528.2L508.6 528.0L506.6 529.4L506.3 529.7L504.3 534.4L503.3 537.1L502.1 540.3L499.3 540.3L499.1 540.2L496.3 537.5L496.1 536.6L494.8 531.6L493.8 530.1L493.3 529.4L490.6 530.1L490.3 530.3L487.6 533.8L485.3 533.8L484.6 533.9L481.8 536.6L481.6 536.6L479.6 536.0L477.3 534.3L476.6 533.8L474.6 534.5L474.3 536.0L473.1 549.8L472.8 551.5L468.8 574.2L468.6 575.3L464.3 576.7L461.3 576.7L457.8 578.8L454.8 578.9L453.8 578.1L449.8 575.0L449.6 575.0L445.6 575.5L441.1 575.2L440.8 575.1L438.3 572.6L425.1 560.8L424.8 560.8L420.3 562.3L420.1 563.2L419.6 565.2L417.8 569.9L417.3 571.1L414.6 573.9L414.3 573.9L410.1 571.1L406.6 572.5L406.3 572.4L400.1 566.8L399.8 566.4L388.3 530.5L388.1 530.5L386.8 531.8L383.3 533.2L383.1 533.4L380.3 537.5L380.1 538.8L378.8 546.3L376.1 549.8L375.8 550.0L372.3 550.0L369.6 547.9L365.1 543.5L364.8 543.7L362.1 547.8L358.6 545.0L358.3 544.9L354.8 545.6L351.3 549.1L351.1 549.1L348.3 546.4L348.1 544.5L346.8 533.2L344.8 526.6L344.6 526.0L340.3 524.5L340.1 524.8L337.3 528.9L335.3 530.9L335.1 531.0L331.6 527.5L331.3 528.2L329.8 533.2L329.3 534.8L326.6 538.9L326.3 538.8L322.8 531.8L321.1 530.0L319.8 528.9L292.3 520.2L292.1 520.5L289.8 523.8L289.3 524.5L286.6 523.8L283.6 522.3L281.6 525.6L281.3 526.8L280.1 549.3L279.8 552.2L277.8 554.2L277.6 554.4L274.3 555.0L274.1 555.2L272.1 564.5L271.8 565.4L269.1 569.5L266.1 572.5L262.6 569.7L262.3 569.3L259.6 562.4L259.3 562.6L257.1 565.3L256.1 576.5L255.8 578.5L253.8 583.2L253.6 583.4L251.6 582.7L251.3 581.8L250.1 576.8L249.1 573.5L247.8 569.4L245.8 564.0L245.6 558.7L245.1 542.7L244.8 538.0L243.6 520.5L243.3 518.8L242.6 514.3L242.1 511.4L240.1 507.4L239.8 506.7L237.8 498.7L237.6 498.2L236.1 497.1L235.8 497.1L234.8 510.0L233.6 512.5L230.6 517.8L230.3 517.9L226.8 517.2L224.8 519.9L224.6 520.7L223.3 530.7L223.1 531.9L221.1 533.9L220.8 533.8L218.3 532.0L218.1 531.9L216.8 536.9L216.6 537.7L214.6 540.4L214.3 540.3L212.3 537.7L212.1 536.8L211.8 535.8L211.6 535.1L210.8 533.9Z" fill="#272a3f" stroke="#272a3f" stroke-width="2.6" stroke-linejoin="round"/>
<path d="M1252.1 176.6L1252.3 190.0L1253.1 227.8L1253.3 232.1L1253.6 232.7L1253.8 233.6L1255.1 239.8L1255.3 242.8L1256.6 265.3L1256.8 266.7L1258.8 268.0L1260.1 255.5L1260.3 253.4L1263.1 250.0L1263.3 249.8L1266.1 248.8L1269.1 251.4L1271.8 254.8L1272.1 259.1L1272.6 272.1L1272.8 274.1L1274.8 276.8L1275.3 301.8L1275.6 313.1L1276.8 313.8L1277.1 313.8L1279.8 311.7L1280.1 311.8L1282.8 313.8L1285.6 317.3L1285.8 319.7L1286.3 331.7L1286.6 336.6L1287.8 355.4L1288.1 360.0L1288.6 370.3L1288.8 372.2L1290.1 376.0L1292.1 380.0L1292.3 380.3L1294.6 377.4L1295.8 376.1L1298.8 374.6L1299.8 365.8L1300.1 364.3L1302.3 362.3L1302.6 362.4L1303.8 364.0L1303.8 385.0L1301.8 383.7L1301.6 383.7L1299.6 385.0L1299.3 386.7L1298.6 391.9L1298.1 395.3L1296.1 402.0L1295.8 402.7L1293.8 406.7L1293.6 407.0L1290.8 408.6L1288.8 404.4L1288.6 402.3L1288.1 390.3L1287.8 386.4L1285.1 383.7L1282.8 380.0L1280.1 381.3L1279.8 381.3L1277.8 377.9L1277.6 375.9L1277.1 369.9L1276.8 368.3L1275.6 363.0L1275.3 360.2L1274.8 354.2L1272.8 347.5L1272.6 346.3L1271.3 335.0L1271.1 330.2L1270.6 314.2L1270.3 308.2L1269.1 286.9L1268.8 285.3L1266.1 277.6L1265.3 275.5L1263.3 272.9L1263.1 273.2L1258.8 290.2L1256.1 292.9L1255.8 293.0L1253.1 290.2L1252.8 289.1L1252.1 284.6Z" fill="#272a3f" stroke="#272a3f" stroke-width="2.6" stroke-linejoin="round"/>
<path d="M1138.2 418.0L1140.9 413.0L1143.6 421.0L1146.4 445.5L1149.1 431.0L1151.8 417.0L1154.5 434.5L1157.3 460.5L1159.1 434.5L1160.2 398.0L1162.0 358.0L1164.5 380.0L1166.8 415.0L1170.9 392.0L1173.6 417.0L1177.3 396.0L1178.5 348.0L1181.0 333.0L1183.5 331.0L1186.2 297.3L1189.7 253.6L1192.2 224.5L1194.1 222.7L1196.4 95.0L1202.2 104.2L1204.0 151.5L1205.7 196.5L1207.5 142.7L1209.5 83.8L1210.8 160.2L1214.2 114.4L1216.3 182.0L1220.0 117.3L1221.7 134.0L1223.9 215.5L1225.4 224.9L1228.3 200.9L1230.5 166.0L1233.1 141.3L1235.5 182.0L1237.7 88.2L1239.9 139.8L1242.1 145.6L1244.3 219.8L1248.6 147.1L1250.8 200.9L1252.0 228.5" fill="none" stroke="#272a3f" stroke-width="6.2" stroke-linejoin="round" stroke-linecap="round"/>
<path d="M1305.0 372.9L1307.9 388.9L1310.1 402.0L1312.3 413.6L1314.5 423.8L1315.9 442.7L1318.1 463.1L1320.3 445.6L1322.2 431.1L1324.6 439.8L1326.8 451.5L1329.0 439.8L1341.4 375.5L1348.6 331.8L1353.0 298.4L1355.2 295.5L1358.8 259.1L1361.0 257.6L1363.9 244.5L1368.3 238.7L1370.5 246.0L1373.4 248.9L1375.5 247.5L1377.7 285.3L1380.6 266.4L1382.8 264.9L1383.5 183.1L1385.7 199.1L1387.2 220.9L1388.6 234.0L1390.8 233.3L1392.3 250.4L1393.7 288.2L1395.2 307.1L1398.1 253.3L1400.3 272.2L1402.7 235.8L1405.4 234.4L1407.1 250.4L1409.4 230.0L1411.9 191.8L1413.4 182.4L1416.3 200.5L1419.9 153.3L1422.1 158.4L1425.0 158.4L1427.2 171.5L1428.6 216.5L1431.5 188.9L1433.7 215.1L1435.9 235.5L1438.4 273.6L1441.7 242.7L1443.9 184.5L1446.8 206.4L1449.7 146.7L1451.9 177.3L1453.4 204.9L1455.5 229.6L1457.7 162.7L1459.9 107.5L1462.1 133.6L1464.3 140.9L1465.0 168.5L1467.2 187.5L1470.8 154.0L1473.0 188.9L1475.2 198.4L1478.8 191.8L1481.0 162.7L1483.9 191.8L1486.1 183.1L1487.5 181.6L1489.7 200.5L1491.9 241.6L1494.1 256.9L1496.7 243.1L1499.2 234.0L1500.6 212.2L1502.8 229.6L1505.0 216.5L1505.7 200.5L1507.9 229.6L1510.1 219.5L1511.8 250.4L1513.3 256.2L1514.5 288.2L1517.4 339.1L1520.3 305.6L1522.5 324.5L1524.6 302.7L1527.2 287.5L1529.4 320.9L1531.5 326.7L1533.7 301.3L1535.2 320.9L1535.9 368.2L1538.8 346.4L1542.2 305.6L1544.6 339.1L1546.8 382.7L1549.0 391.5L1551.2 397.3L1553.4 414.7L1556.3 397.3L1558.5 372.5L1561.4 379.8L1563.5 392.9L1565.0 353.6L1567.9 374.0L1570.1 365.3L1573.0 346.4L1575.9 353.6L1578.1 362.4L1580.3 382.7L1581.7 390.0L1583.2 379.8L1584.6 411.8L1586.8 427.8L1589.7 417.6L1591.9 416.2L1594.8 432.9L1597.0 404.5L1599.2 397.3L1601.4 387.1L1604.3 404.5L1606.5 384.2L1610.8 391.5L1614.5 388.5L1616.6 422.0L1619.5 414.7L1621.0 429.3L1623.9 411.8L1626.1 440.9L1627.5 461.6L1630.5 466.0L1631.9 486.4L1632.6 502.4L1635.5 484.9L1638.5 492.2L1640.6 471.8L1642.1 460.2L1645.0 464.5L1647.9 470.4L1650.1 479.1L1653.0 476.2L1655.9 482.0L1658.1 469.6L1661.0 479.1L1663.2 486.4L1664.6 495.1L1667.5 486.4L1670.5 482.0L1672.6 469.6L1675.5 483.5L1678.5 493.6L1681.4 484.9L1683.5 498.0L1685.0 509.6L1688.6 507.5L1691.5 512.5L1694.5 510.4L1697.4 518.4L1698.8 515.7" fill="none" stroke="#272a3f" stroke-width="6.7" stroke-linejoin="round" stroke-linecap="round"/>
<path d="M211.1 652.0L214.4 651.3L214.6 650.5L214.9 649.2L215.1 649.0L217.4 648.4L217.6 643.9L217.9 640.4L229.6 640.4L229.9 641.2L230.4 644.2L230.6 644.3L231.9 640.5L232.1 638.1L233.4 623.7L238.4 623.2L238.6 625.6L239.1 633.4L239.4 633.2L240.6 623.4L240.9 623.2L245.9 623.2L246.1 625.0L246.9 639.7L247.1 640.7L249.9 644.4L250.1 645.0L251.4 662.5L251.6 665.2L254.4 669.3L254.6 669.2L256.6 666.6L256.9 664.3L257.6 656.8L257.9 653.6L258.6 643.2L258.9 640.3L260.9 637.6L261.1 637.6L263.1 640.3L263.6 640.4L267.6 640.4L267.9 640.2L268.9 634.0L269.1 629.8L269.6 614.8L269.9 611.3L272.1 611.3L272.4 606.2L272.9 590.4L273.1 583.5L273.6 582.3L274.1 582.0L276.9 580.8L277.1 581.2L277.6 583.2L277.9 583.6L280.9 583.2L283.4 582.6L283.6 579.5L284.1 555.5L284.4 545.8L285.1 529.7L285.4 525.8L290.6 525.8L290.9 526.3L291.9 537.5L292.1 538.7L293.6 536.2L293.9 526.0L294.4 488.0L294.6 480.5L295.1 479.7L295.4 479.6L300.1 479.6L300.4 481.4L301.1 497.2L301.4 502.9L302.1 522.9L302.4 524.5L303.9 525.8L304.1 519.6L305.4 480.9L305.6 480.6L308.4 479.6L308.6 478.3L309.4 456.8L309.6 453.5L309.9 451.9L310.1 450.9L316.1 450.9L316.4 452.7L316.9 463.2L317.1 468.8L317.6 480.8L317.9 492.1L318.4 524.1L318.6 532.0L319.9 547.0L320.1 548.0L321.4 551.3L321.6 553.6L323.4 554.8L323.6 555.0L325.6 559.0L325.9 559.3L329.9 560.7L330.1 560.8L331.6 566.8L334.4 576.4L334.9 578.5L335.9 583.0L336.1 583.3L338.6 583.9L338.9 582.7L339.4 566.7L339.6 560.7L340.9 559.4L341.1 554.3L341.6 531.3L341.9 525.8L346.6 525.8L346.9 527.7L347.4 550.7L347.6 559.3L349.6 560.6L349.9 561.3L351.1 566.3L351.4 570.6L351.9 582.1L352.1 583.2L356.1 581.2L356.4 581.2L357.6 583.1L357.9 583.3L361.4 584.0L362.1 582.5L364.9 572.2L365.1 571.6L370.6 571.6L370.9 572.3L371.4 580.3L371.6 583.2L376.6 580.4L378.9 583.3L381.6 585.4L382.4 586.3L383.9 588.3L384.9 588.4L385.9 588.4L386.1 586.9L386.6 546.9L386.9 530.1L388.1 526.3L388.4 525.8L395.4 525.8L395.6 524.8L397.1 500.8L397.6 493.0L397.9 491.2L402.6 491.2L402.9 492.1L403.4 502.9L403.6 508.9L404.1 524.9L404.4 530.9L405.6 540.9L405.9 544.2L406.4 553.2L406.6 557.1L407.9 574.6L408.1 577.5L408.6 583.0L408.9 583.3L415.9 583.3L418.1 584.0L419.4 583.4L419.6 581.8L420.1 570.3L420.4 565.9L421.6 555.9L421.9 554.9L425.4 553.9L427.9 553.6L428.1 555.1L428.6 558.9L428.9 558.6L430.6 555.1L430.9 554.7L434.4 554.4L434.6 555.7L435.1 559.9L435.4 560.8L437.4 563.4L437.6 556.6L437.9 549.6L438.1 543.1L443.6 542.8L443.9 546.5L444.1 550.4L444.4 551.9L446.9 553.3L450.4 551.9L450.6 552.0L451.9 553.9L454.1 556.2L456.1 558.9L456.4 559.0L459.1 554.8L459.6 554.7L464.1 554.0L464.4 553.9L466.4 551.9L466.6 550.3L467.9 537.8L468.1 529.3L468.6 509.3L468.9 490.4L469.4 450.4L469.6 443.4L470.4 423.3L470.6 422.7L475.1 422.0L475.4 421.5L476.6 417.7L477.4 417.5L479.4 417.0L479.6 416.7L480.1 415.2L480.4 414.6L482.4 411.9L482.6 410.4L483.1 405.9L483.4 405.2L485.4 404.5L485.6 393.3L485.9 381.8L486.1 371.1L491.1 371.1L491.4 372.5L491.9 376.5L492.1 376.9L495.4 377.2L495.6 378.1L496.1 385.4L496.4 387.8L500.6 388.5L500.9 393.4L501.4 404.4L501.9 412.5L502.1 415.8L503.1 394.5L503.4 386.8L503.6 375.7L503.9 365.6L508.6 365.3L508.9 366.6L510.1 374.1L510.6 376.1L510.9 376.9L513.6 376.9L513.9 378.1L514.9 386.8L515.4 392.4L515.9 398.2L517.4 416.9L519.4 417.1L520.9 417.3L521.1 418.2L522.1 425.9L522.4 427.2L523.9 433.4L524.1 433.7L528.9 434.3L529.1 433.5L529.9 427.6L530.1 423.6L530.9 401.1L531.1 400.2L533.9 399.9L534.1 398.7L534.6 366.9L534.9 353.6L536.9 352.3L537.1 349.1L537.6 334.9L537.9 331.5L542.6 331.1L542.9 332.0L543.4 342.5L543.6 346.7L544.4 351.0L544.6 352.2L546.4 351.5L546.6 351.7L548.6 354.3L549.9 358.6L550.1 359.4L552.9 358.1L553.1 358.2L554.4 360.0L554.6 359.4L555.6 354.4L558.6 353.7L558.9 352.9L559.9 333.9L560.1 331.5L564.6 331.1L564.9 329.5L565.4 326.0L566.9 325.0L570.9 325.0L571.1 331.4L571.6 346.1L572.1 357.4L572.4 359.6L573.4 360.2L573.6 367.8L573.9 375.5L574.1 383.1L574.6 394.1L574.9 398.8L576.1 399.8L576.4 396.1L576.9 374.3L577.1 364.5L577.4 356.2L577.6 353.6L580.4 352.2L584.9 352.2L585.1 352.4L585.6 353.4L585.9 353.6L591.4 353.9L591.6 355.4L592.1 367.2L592.4 373.0L593.4 395.5L593.6 401.5L594.4 419.7L594.6 422.1L595.9 422.7L596.1 417.4L596.4 411.1L601.1 411.1L601.4 412.0L602.1 422.0L602.4 422.7L606.6 422.7L606.9 422.9L607.9 427.3L608.1 427.4L609.4 423.7L609.6 423.4L613.9 422.8L614.1 422.6L615.1 418.0L615.4 417.3L623.9 417.1L624.1 419.1L624.4 423.1L624.6 426.6L626.4 434.7L626.6 436.6L627.9 449.1L628.1 449.8L629.4 451.1L629.9 444.2L630.1 440.9L631.4 439.6L631.6 439.5L633.6 439.5L633.9 422.3L634.1 389.8L634.4 359.5L634.6 348.1L640.9 348.1L641.1 348.9L641.6 352.7L641.9 354.8L642.9 363.5L643.1 364.0L644.6 365.2L644.9 359.4L645.1 355.4L645.6 354.4L645.9 354.2L650.6 354.2L650.9 354.6L651.4 359.6L651.6 362.3L652.9 379.8L653.1 382.3L654.4 387.3L654.6 382.1L655.1 364.1L655.4 359.7L655.9 354.7L656.1 354.2L660.1 354.2L660.4 355.7L660.9 364.7L661.1 368.2L662.1 377.0L662.4 380.5L663.1 392.3L663.4 394.2L664.6 399.2L664.9 399.3L668.1 400.0L668.4 400.6L668.9 404.1L669.1 405.1L672.1 405.8L672.4 406.0L673.4 419.6L674.6 420.9L674.9 421.0L676.1 417.2L676.4 416.5L678.6 411.9L678.9 411.6L689.9 411.2L690.1 411.1L690.6 409.4L690.9 408.9L691.4 410.9L691.6 411.6L693.6 412.0L693.9 412.5L695.1 416.5L695.4 417.6L696.6 423.9L696.9 426.2L697.6 433.8L697.9 434.3L698.4 434.5L698.6 441.7L699.1 485.5L704.6 485.7L705.1 487.4L705.4 488.3L705.6 482.4L706.4 464.2L706.6 450.9L707.1 422.9L712.1 422.9L712.4 434.0L712.6 451.5L712.9 466.0L713.4 481.0L713.6 480.9L715.1 479.6L715.6 460.6L715.9 457.5L720.6 457.1L720.9 459.6L721.1 462.4L721.4 463.5L722.6 462.4L722.9 462.1L724.1 458.3L724.4 457.8L727.1 456.4L727.4 455.1L727.9 451.6L728.1 451.2L730.6 450.6L730.9 450.5L731.4 449.5L731.6 449.2L732.1 450.2L732.4 450.5L736.6 449.8L736.9 448.7L737.4 446.2L739.4 445.5L739.6 444.5L740.1 437.0L740.4 434.5L743.1 433.8L743.4 433.3L743.9 431.8L744.1 432.0L744.9 433.4L745.1 433.8L748.9 433.8L749.1 433.4L749.6 431.7L749.9 431.6L750.9 433.8L752.1 434.0L753.4 434.3L753.6 443.8L753.9 451.3L756.6 451.3L756.9 444.3L757.1 432.8L757.4 424.3L759.1 421.8L759.4 415.6L759.9 398.1L760.1 386.4L760.6 361.4L760.9 359.9L763.4 359.3L763.6 354.1L763.9 333.7L764.1 317.0L764.4 308.4L775.9 307.9L776.1 305.0L776.6 297.6L776.9 297.2L781.6 297.2L781.9 299.3L782.4 307.5L782.6 307.9L783.1 303.9L783.4 303.2L786.6 302.6L786.9 302.6L788.1 305.8L788.4 306.7L789.6 314.2L789.9 315.3L791.1 319.1L791.4 318.7L792.6 314.7L793.1 314.6L796.1 314.2L796.4 312.9L796.9 305.4L797.1 303.2L799.1 301.9L799.6 301.0L801.4 297.5L805.6 297.2L805.9 296.4L806.6 292.4L806.9 291.6L811.4 291.4L811.6 291.6L812.1 293.8L812.4 294.5L814.4 294.3L814.6 294.9L815.1 297.1L815.4 297.5L817.9 297.7L818.1 297.9L818.6 301.7L818.9 303.3L821.6 302.6L821.9 301.6L822.4 297.9L822.6 297.2L829.4 297.2L829.6 298.1L829.9 299.5L830.1 300.4L832.6 300.7L833.4 302.5L835.4 302.9L835.6 303.9L836.1 311.1L836.4 313.5L839.1 314.2L839.4 312.8L839.9 308.8L840.1 308.3L842.6 308.0L842.9 306.7L843.4 291.5L843.6 285.8L850.4 285.5L850.6 291.7L851.1 305.2L851.4 312.1L852.1 333.5L852.4 340.1L852.9 351.1L853.1 354.2L855.6 354.5L856.6 359.9L856.9 360.3L857.6 361.4L857.9 365.0L858.6 378.2L858.9 382.4L859.9 397.4L860.1 399.7L861.4 403.4L862.4 405.6L862.6 405.7L863.9 405.1L864.1 399.1L864.9 376.4L865.1 372.1L866.6 370.8L866.9 369.4L867.6 360.7L867.9 360.5L870.6 359.9L870.9 359.5L871.4 356.0L871.6 354.7L873.6 354.0L873.9 350.7L874.1 344.5L874.4 342.8L874.6 338.1L875.1 323.1L875.4 315.2L875.9 299.2L876.1 297.6L878.6 297.0L878.9 295.3L879.4 275.8L879.6 268.5L884.6 268.3L884.9 273.5L885.4 285.2L885.6 285.2L887.4 284.6L887.6 283.7L888.1 276.7L888.4 274.4L892.6 274.1L892.9 276.8L893.4 283.0L893.6 278.2L894.1 268.1L894.6 256.1L894.9 251.1L898.4 250.8L898.6 249.6L899.1 245.8L899.4 245.2L900.6 245.0L900.9 224.7L901.1 205.3L906.9 205.0L907.1 217.9L907.4 232.7L907.6 239.4L909.6 239.2L909.9 236.9L910.4 217.8L910.6 216.9L915.6 216.6L915.9 223.7L916.1 231.0L916.4 236.3L916.9 244.6L917.1 248.7L917.9 259.4L918.1 262.8L919.1 268.5L920.9 271.2L921.4 272.2L921.9 273.3L922.1 272.2L922.9 260.3L923.9 246.0L924.1 245.3L928.9 245.0L929.1 246.6L929.6 253.8L929.9 256.4L931.1 265.1L931.4 266.1L932.1 268.3L932.4 268.5L936.9 268.3L937.1 266.8L937.4 263.5L937.6 262.4L942.6 262.2L942.9 262.5L943.4 266.9L943.6 268.6L945.6 268.8L945.9 273.0L946.4 288.8L946.6 293.0L947.1 296.8L947.4 297.4L948.9 297.6L949.1 298.2L949.6 305.7L949.9 305.7L950.6 303.4L950.9 302.7L955.9 302.3L956.1 303.8L956.6 307.6L956.9 307.9L959.4 308.5L959.6 309.2L960.6 319.8L960.9 323.1L961.6 333.8L961.9 335.5L963.9 336.9L964.1 333.3L964.6 324.3L964.9 321.7L965.6 314.8L965.9 314.4L970.4 314.1L970.6 316.8L971.1 325.5L971.4 328.9L972.1 338.3L972.4 341.3L974.6 341.9L974.9 341.2L975.9 320.5L976.9 300.5L977.1 297.6L980.6 296.9L980.9 293.6L981.4 286.1L982.1 285.8L984.1 285.3L984.4 285.0L984.9 283.5L985.1 283.4L985.6 284.9L985.9 285.3L990.4 285.3L990.6 287.1L991.4 293.2L991.6 295.0L992.9 301.3L993.1 302.0L995.9 302.3L996.1 300.5L996.9 293.7L997.1 290.7L997.6 275.5L997.9 274.1L1002.9 273.8L1003.1 276.1L1003.9 284.0L1004.1 285.8L1004.9 290.7L1005.4 293.2L1005.9 295.7L1006.1 296.9L1008.6 294.8L1008.9 295.0L1009.6 296.7L1009.9 296.9L1015.4 297.2L1015.6 301.8L1016.1 338.1L1016.4 352.7L1016.6 359.1L1018.4 360.5L1018.6 376.3L1018.9 401.7L1019.1 405.0L1020.9 405.6L1021.1 410.5L1021.6 423.8L1021.9 431.1L1022.4 449.9L1022.6 450.9L1023.1 451.3L1023.4 439.2L1023.6 417.3L1028.6 417.0L1028.9 421.5L1029.4 431.7L1029.9 432.8L1030.6 434.3L1030.9 436.6L1031.4 459.6L1031.6 468.3L1032.1 469.6L1032.4 479.9L1032.9 537.4L1033.1 553.7L1034.6 554.4L1037.4 555.1L1037.6 541.6L1037.9 524.9L1038.4 472.4L1039.4 369.2L1039.6 347.8L1040.1 330.8L1040.4 325.3L1042.6 325.0L1042.9 321.4L1043.6 297.6L1043.9 297.1L1045.9 295.0L1046.1 294.8L1046.6 296.3L1046.9 296.9L1049.4 297.2L1049.6 299.2L1050.4 308.1L1050.6 309.0L1051.9 306.5L1052.1 304.6L1052.9 297.8L1053.1 297.2L1057.6 296.9L1057.9 301.3L1058.4 317.8L1058.6 327.1L1059.1 347.1L1059.4 350.2L1059.6 364.0L1059.9 389.0L1060.1 394.1L1061.9 394.7L1062.1 396.4L1062.6 441.9L1062.9 462.5L1063.4 481.7L1063.6 488.3L1063.9 485.8L1064.1 467.5L1064.4 445.6L1069.6 445.6L1069.9 450.3L1070.4 490.0L1070.6 518.3L1070.9 542.7L1077.6 542.7L1077.9 526.9L1078.1 507.5L1078.4 491.8L1078.6 479.9L1078.9 466.1L1079.4 418.9L1079.6 401.2L1080.1 400.4L1080.4 400.1L1084.6 400.1L1085.1 401.0L1085.6 401.5L1085.9 403.3L1086.4 409.8L1086.6 417.9L1087.1 439.9L1087.4 447.5L1088.9 484.4L1089.1 494.0L1089.4 524.4L1089.6 525.1L1091.4 526.2L1091.6 530.3L1091.9 545.7L1092.1 553.3L1097.4 553.3L1097.6 528.3L1097.9 508.9L1100.9 508.2L1101.1 504.8L1101.4 497.0L1101.6 487.2L1102.1 435.0L1102.4 429.2L1106.6 428.3L1106.9 427.3L1107.4 416.0L1107.6 411.8L1112.1 411.1L1112.4 410.4L1112.9 386.7L1113.1 383.4L1115.1 382.8L1115.4 377.6L1115.6 365.4L1115.9 354.4L1121.4 354.1L1122.1 365.4L1122.4 369.3L1122.6 373.6L1123.4 389.6L1123.6 397.1L1124.1 424.6L1124.4 433.7L1129.1 434.5L1131.1 435.1L1131.4 428.9L1131.6 414.3L1131.9 400.3L1132.6 381.6L1132.9 374.8L1133.6 353.4L1133.9 343.9L1134.6 309.4L1134.9 303.1L1143.9 302.4L1144.1 303.4L1144.6 305.9L1144.9 305.8L1145.9 304.8L1146.1 304.4L1146.6 299.2L1146.9 297.0L1148.9 296.7L1149.1 294.2L1149.6 282.6L1149.9 279.8L1152.6 278.4L1155.4 279.7L1155.6 280.8L1156.1 288.8L1156.4 291.8L1157.6 296.8L1157.9 294.1L1158.4 282.1L1158.6 279.8L1161.4 279.5L1161.9 275.8L1162.1 274.0L1164.6 273.7L1164.9 259.0L1165.1 234.6L1165.4 216.8L1167.9 216.6L1168.1 213.5L1168.6 205.8L1168.9 205.3L1172.9 205.1L1173.1 201.7L1173.6 186.1L1173.9 182.4L1178.6 182.1L1178.9 183.2L1179.4 197.4L1179.6 204.6L1180.1 219.6L1180.4 226.4L1180.9 236.9L1181.1 239.8L1191.9 239.5L1192.1 243.4L1192.6 253.1L1192.9 254.5L1193.6 257.3L1193.9 256.7L1194.4 246.1L1194.6 245.6L1199.1 245.3L1199.4 236.2L1199.6 223.3L1199.9 222.8L1204.4 222.5L1204.6 224.4L1205.1 244.9L1205.4 254.4L1205.6 263.7L1205.9 270.3L1207.1 290.3L1207.4 291.9L1208.1 293.8L1208.4 293.1L1208.6 270.6L1208.9 268.2L1213.6 267.9L1213.9 272.4L1214.1 280.9L1214.4 285.5L1215.1 296.2L1215.4 297.8L1216.6 301.6L1216.9 301.0L1218.1 297.3L1220.1 297.0L1220.4 294.3L1220.9 278.7L1221.1 274.3L1225.9 274.0L1226.1 274.6L1226.6 290.6L1226.9 297.9L1228.1 316.6L1228.4 319.3L1229.6 323.1L1229.9 321.3L1230.4 313.3L1230.6 307.5L1231.1 293.5L1231.4 289.4L1232.1 280.9L1232.4 279.8L1234.6 279.6L1234.9 279.2L1236.1 269.5L1236.4 259.8L1236.6 239.8L1241.6 239.5L1241.9 242.4L1242.4 267.1L1242.6 272.4L1243.4 286.5L1243.6 290.0L1245.6 290.7L1245.9 289.8L1246.4 286.3L1246.6 285.6L1250.6 285.4L1250.9 286.7L1251.4 302.7L1251.6 308.6L1255.1 308.3L1255.4 317.8L1256.1 357.8L1256.4 372.3L1256.6 407.3L1256.9 419.1L1257.4 437.1L1257.6 440.4L1258.4 450.1L1258.6 447.2L1259.4 436.9L1259.6 434.3L1261.6 433.7L1261.9 429.6L1262.4 414.3L1262.6 411.4L1267.1 411.1L1267.4 407.9L1267.6 405.6L1272.6 405.3L1272.9 410.6L1273.4 422.6L1273.9 430.7L1274.1 434.4L1275.4 436.9L1275.6 440.1L1276.6 483.8L1276.9 499.3L1277.1 517.9L1277.4 531.5L1281.6 531.2L1281.9 529.2L1282.1 526.8L1282.4 525.6L1287.4 525.4L1287.6 517.1L1287.9 501.9L1288.1 485.0L1288.4 463.4L1289.9 458.4L1290.1 457.6L1295.6 457.3L1295.9 450.2L1296.1 442.9L1296.4 440.2L1300.9 439.9L1301.1 442.9L1301.4 449.7L1301.6 451.8L1305.1 451.5L1307.1 452.2L1307.4 459.0L1307.6 468.6L1307.9 468.9L1313.9 468.9L1314.1 477.3L1314.4 500.4L1314.6 522.8L1315.1 524.3L1315.4 524.6L1317.1 525.2L1317.4 518.7L1317.6 506.9L1317.9 498.0L1319.6 497.4L1319.9 495.9L1320.4 466.6L1320.6 463.1L1325.6 463.1L1325.9 476.4L1326.1 492.6L1326.4 501.0L1328.1 502.9L1328.4 502.5L1328.9 499.0L1329.1 493.0L1329.9 458.7L1330.1 438.7L1330.4 403.7L1330.6 369.0L1331.1 316.2L1331.4 308.5L1335.6 308.3L1335.9 309.5L1336.1 323.0L1336.4 333.7L1336.9 344.7L1337.1 347.9L1339.1 348.5L1339.4 345.9L1339.9 338.4L1340.1 337.6L1347.1 337.3L1347.4 328.9L1347.9 305.1L1348.1 302.7L1355.1 302.0L1355.4 300.9L1355.9 297.9L1356.1 297.6L1361.6 296.9L1361.9 292.8L1362.4 277.3L1362.6 274.4L1367.1 274.1L1367.4 277.9L1367.6 287.1L1367.9 295.5L1368.6 296.7L1368.9 296.9L1373.4 297.2L1373.6 308.9L1373.9 320.8L1374.1 332.4L1374.6 347.4L1374.9 353.6L1377.6 354.3L1377.9 355.0L1379.1 360.6L1379.4 356.5L1380.9 319.0L1381.1 315.5L1381.6 310.5L1381.9 308.5L1386.4 308.3L1386.6 310.2L1387.1 316.4L1388.1 329.2L1388.4 330.4L1392.9 331.1L1393.1 333.4L1393.6 343.9L1393.9 346.5L1395.9 347.8L1396.1 341.8L1396.9 319.3L1397.1 308.9L1397.4 297.4L1397.6 297.2L1402.1 296.9L1402.4 303.7L1402.6 312.5L1402.9 318.7L1403.9 331.2L1404.1 326.8L1404.9 308.1L1405.1 302.7L1407.6 302.0L1412.6 301.6L1412.9 299.0L1413.6 290.4L1413.9 284.1L1414.1 268.1L1419.1 267.8L1419.4 272.8L1419.9 286.8L1420.1 290.5L1420.6 296.3L1420.9 296.6L1429.9 296.9L1430.1 296.8L1430.6 293.0L1430.9 291.4L1435.1 291.1L1435.4 292.5L1435.9 296.5L1436.6 301.6L1437.6 308.2L1437.9 312.6L1438.6 327.6L1438.9 332.2L1440.1 344.7L1440.4 344.2L1441.4 319.2L1441.6 311.3L1441.9 302.7L1442.1 297.2L1446.6 296.9L1446.9 297.2L1447.4 301.2L1447.6 301.7L1448.1 293.9L1448.4 291.4L1453.4 291.1L1453.6 299.9L1453.9 308.9L1454.1 318.2L1454.6 343.7L1454.9 354.4L1456.4 355.0L1456.6 357.4L1456.9 370.1L1457.1 377.3L1462.6 377.0L1462.9 379.9L1463.4 415.1L1463.6 428.2L1467.1 428.9L1467.4 430.1L1467.9 433.6L1468.1 429.1L1468.9 410.8L1469.1 405.6L1474.4 405.4L1474.6 410.2L1475.1 425.9L1475.4 426.9L1477.4 412.2L1477.9 400.1L1478.1 394.4L1483.9 394.0L1484.1 397.0L1484.6 404.5L1484.9 406.7L1485.9 414.7L1486.1 416.5L1490.4 416.8L1490.6 421.7L1491.1 437.5L1491.4 441.7L1493.4 463.0L1494.6 468.1L1494.9 467.6L1495.6 442.9L1495.9 435.4L1497.1 434.7L1499.1 434.0L1499.4 401.6L1499.6 356.0L1499.9 354.3L1501.4 353.6L1501.6 334.6L1501.9 315.2L1502.1 297.2L1507.1 296.9L1507.4 301.2L1507.9 313.2L1508.1 315.1L1509.4 319.4L1511.4 320.1L1511.6 323.7L1512.1 351.7L1512.4 363.4L1513.1 385.1L1513.4 407.4L1513.6 469.9L1513.9 499.5L1516.6 500.9L1516.9 507.6L1517.4 522.6L1517.6 523.3L1518.6 525.8L1518.9 526.3L1521.6 525.6L1521.9 523.3L1523.1 502.1L1523.4 490.3L1523.9 460.3L1524.1 449.3L1524.6 429.3L1524.9 428.4L1525.1 428.5L1532.1 428.5L1532.4 443.8L1532.6 479.8L1537.6 480.1L1537.9 488.7L1538.4 561.6L1538.6 565.1L1539.4 565.5L1539.6 564.4L1540.1 554.4L1540.4 554.0L1544.9 554.0L1545.1 555.7L1545.6 578.8L1545.9 581.1L1546.4 581.5L1546.6 584.1L1547.1 599.1L1548.1 626.6L1548.4 631.4L1548.9 633.4L1549.1 634.0L1553.6 634.0L1553.9 631.3L1554.4 608.8L1554.6 607.8L1557.1 607.1L1557.4 605.6L1557.9 594.3L1558.1 594.0L1558.9 594.0L1559.1 585.5L1559.4 559.8L1561.9 559.2L1562.1 559.0L1562.4 558.2L1562.6 557.9L1563.1 559.8L1571.1 559.8L1571.4 558.8L1571.6 556.3L1571.9 554.0L1574.4 553.6L1574.6 553.2L1575.1 552.0L1575.4 552.2L1575.9 553.4L1576.1 553.6L1577.4 554.0L1577.6 563.1L1577.9 572.3L1578.1 581.1L1579.4 593.6L1579.6 596.8L1579.9 602.2L1580.1 604.9L1582.4 605.6L1582.6 601.3L1583.4 580.4L1583.6 577.3L1588.6 577.3L1588.9 578.6L1589.1 580.8L1589.4 582.3L1591.6 581.6L1592.1 580.4L1592.4 580.8L1592.6 581.7L1592.9 582.4L1594.4 582.4L1594.6 578.4L1595.1 554.0L1598.9 554.0L1599.1 521.8L1599.4 484.9L1599.6 468.2L1604.1 468.2L1604.4 472.9L1604.9 500.4L1605.1 515.1L1605.6 546.6L1605.9 553.7L1606.6 552.1L1606.9 540.6L1607.9 441.5L1608.1 391.5L1608.4 371.1L1613.4 371.1L1613.6 408.2L1613.9 433.7L1615.9 434.3L1616.1 436.2L1616.6 440.7L1616.9 449.9L1617.4 470.2L1617.6 492.9L1617.9 515.9L1618.1 538.3L1618.6 566.3L1618.9 578.0L1620.1 576.7L1620.4 574.0L1620.9 559.0L1621.1 554.7L1623.1 554.0L1623.4 553.5L1623.9 552.0L1624.1 552.4L1624.6 553.9L1625.1 554.0L1626.4 554.0L1626.6 557.8L1627.1 580.9L1627.9 590.3L1628.1 595.0L1628.4 601.2L1628.6 607.0L1629.6 621.4L1629.9 623.1L1632.9 623.5L1633.1 626.9L1633.6 636.3L1633.9 639.8L1639.9 640.5L1640.1 643.5L1640.6 651.0L1640.9 651.5L1646.9 651.5L1647.1 658.0L1647.4 665.5L1647.6 668.9L1649.9 669.6L1650.1 669.3L1650.6 660.8L1650.9 657.3L1652.6 657.0L1652.9 654.1L1653.1 649.2L1653.4 645.6L1655.1 644.9L1655.4 643.8L1655.9 640.8L1656.1 640.5L1658.6 640.3L1658.9 637.0L1659.4 597.7L1659.6 594.4L1664.1 594.2L1664.4 594.7L1664.9 615.2L1665.1 618.0L1669.6 617.3L1669.9 612.1L1670.4 592.6L1671.1 563.0L1671.4 560.1L1676.9 560.1L1677.1 562.3L1678.4 587.0L1678.6 599.7L1679.1 634.7L1679.4 639.8L1684.9 640.1L1685.1 640.9L1685.6 644.7L1685.9 646.1L1687.1 650.5L1687.4 650.8L1691.4 651.4L1691.6 650.9L1692.1 646.9L1692.4 645.6L1693.6 645.0L1693.9 641.0L1694.4 626.0L1694.6 623.1L1699.4 623.1L1699.6 623.5L1700.1 627.0L1700.4 628.2L1701.6 628.8L1701.6 634.7L1701.1 637.7L1700.9 638.5L1699.6 639.8L1699.4 644.2L1698.9 656.0L1698.6 657.0L1695.4 657.3L1695.1 658.4L1694.6 666.4L1694.4 669.0L1693.1 669.6L1692.9 670.6L1692.4 673.9L1692.1 674.4L1685.1 674.4L1684.9 666.1L1684.6 657.3L1683.6 657.3L1683.4 661.7L1682.9 673.5L1682.6 674.4L1678.1 674.4L1677.9 669.7L1677.6 662.4L1677.4 657.3L1674.9 656.6L1674.6 650.1L1674.1 634.6L1673.9 634.0L1670.6 634.7L1670.4 635.6L1669.4 645.0L1669.1 654.6L1668.9 667.0L1668.6 674.4L1663.4 674.4L1663.1 673.3L1662.6 665.3L1662.4 662.8L1655.9 663.1L1655.6 663.2L1654.9 673.2L1654.6 678.6L1654.4 685.8L1654.1 691.5L1649.1 691.5L1648.9 690.1L1648.4 680.1L1648.1 679.8L1646.6 679.8L1646.4 679.2L1645.9 676.2L1645.6 675.4L1643.1 674.7L1642.6 689.1L1642.4 691.5L1637.9 691.5L1637.6 690.6L1637.1 686.8L1636.9 685.9L1632.1 685.6L1631.9 682.5L1631.4 651.5L1631.1 640.5L1627.6 639.8L1627.4 637.0L1626.9 629.5L1626.6 628.8L1624.9 628.3L1624.6 627.3L1624.1 611.8L1623.9 605.6L1614.1 605.6L1613.9 602.9L1612.6 581.7L1612.1 574.1L1611.9 572.2L1608.9 572.2L1608.6 573.5L1608.4 575.4L1608.1 576.5L1599.1 576.5L1598.9 578.7L1598.6 595.3L1598.4 605.6L1585.6 605.6L1585.4 611.4L1585.1 621.1L1584.9 628.2L1583.1 628.8L1582.9 631.0L1582.6 647.2L1582.4 657.3L1577.9 657.3L1577.6 652.8L1577.4 628.9L1575.4 628.2L1575.1 625.9L1574.6 610.4L1574.4 605.6L1561.9 605.6L1561.6 607.8L1561.1 632.0L1560.9 633.7L1557.9 634.0L1557.6 637.7L1557.1 653.5L1556.9 657.0L1551.4 657.3L1551.1 657.9L1550.6 661.9L1550.4 663.1L1545.6 663.1L1545.4 662.9L1544.9 643.4L1544.6 634.7L1543.4 634.1L1543.1 631.2L1542.6 611.7L1542.4 605.6L1538.1 605.6L1537.9 603.9L1537.4 600.3L1533.4 599.8L1533.1 597.0L1532.6 557.6L1532.4 554.0L1528.9 554.0L1528.6 554.3L1526.6 573.6L1526.4 575.2L1525.1 576.4L1524.9 576.9L1520.6 576.9L1520.4 583.0L1520.1 590.5L1519.9 594.4L1514.9 594.4L1514.6 591.6L1514.4 586.6L1514.1 582.7L1509.6 582.7L1509.4 582.6L1508.9 570.6L1508.6 560.9L1507.6 399.3L1507.4 377.3L1504.1 377.3L1503.9 386.1L1503.1 439.8L1500.9 439.8L1500.6 444.2L1500.4 484.4L1500.1 511.8L1499.4 527.7L1499.1 534.3L1498.6 553.7L1498.4 559.7L1493.1 559.7L1492.9 517.8L1492.6 474.0L1489.9 474.0L1489.6 472.2L1489.1 464.7L1488.9 462.0L1486.9 446.0L1486.6 439.2L1486.1 423.7L1485.9 423.1L1482.4 423.1L1482.1 424.5L1481.4 443.9L1481.1 445.6L1479.4 445.6L1479.1 453.4L1478.9 466.7L1478.6 468.9L1473.6 468.9L1473.4 466.8L1473.1 460.2L1472.9 457.3L1471.1 457.3L1470.6 491.0L1470.4 496.5L1465.1 496.5L1464.9 487.8L1464.4 456.8L1464.1 451.5L1460.1 451.5L1459.9 457.3L1459.6 464.8L1459.4 468.9L1454.6 468.9L1454.4 442.3L1454.1 402.7L1453.9 399.8L1450.1 399.8L1449.9 399.1L1448.9 346.3L1448.6 338.4L1445.9 338.4L1445.6 359.1L1445.4 380.7L1445.1 398.5L1444.9 411.5L1442.6 411.5L1442.4 412.1L1441.9 415.6L1441.6 416.5L1436.9 416.5L1436.6 416.1L1436.1 408.1L1435.9 403.2L1435.4 385.7L1435.1 356.0L1434.9 323.4L1434.6 308.5L1433.1 308.5L1432.9 310.7L1432.4 318.2L1432.1 319.5L1427.4 319.5L1427.1 318.9L1426.6 315.4L1426.4 314.4L1423.1 314.4L1422.6 318.7L1422.4 319.5L1418.6 319.5L1418.4 319.1L1417.1 314.7L1416.9 316.1L1415.6 331.1L1415.4 336.0L1414.9 347.2L1414.6 348.1L1409.6 348.5L1409.4 349.5L1408.6 358.9L1408.4 359.5L1403.9 359.5L1403.6 359.3L1402.9 350.6L1402.6 349.2L1401.1 348.6L1400.9 353.8L1400.4 372.3L1400.1 387.2L1398.9 476.9L1398.6 479.8L1393.1 479.8L1392.9 468.7L1392.4 429.4L1392.1 422.6L1389.6 422.4L1389.4 422.1L1388.9 390.6L1388.6 376.5L1385.1 375.8L1384.9 375.1L1384.4 372.6L1384.1 372.2L1382.6 372.8L1382.4 376.4L1381.9 453.9L1381.6 463.1L1376.6 463.1L1376.4 452.9L1376.1 440.4L1375.9 434.0L1370.4 434.0L1370.1 430.6L1369.1 367.8L1368.9 357.4L1368.4 344.9L1368.1 342.7L1363.6 342.7L1363.4 333.9L1363.1 320.2L1359.6 319.5L1353.1 320.9L1352.9 324.0L1351.9 345.9L1351.6 365.0L1351.4 385.4L1351.1 394.1L1349.4 394.7L1349.1 399.9L1348.9 411.6L1348.6 422.1L1343.9 422.4L1343.6 421.6L1343.1 416.8L1340.1 416.6L1339.6 416.5L1339.4 414.1L1339.1 412.5L1335.4 412.2L1335.1 443.7L1334.9 497.9L1334.6 506.9L1333.4 508.2L1332.9 509.4L1332.6 511.0L1332.1 529.0L1331.9 536.2L1329.6 536.9L1329.4 538.5L1328.6 553.5L1328.4 554.4L1324.4 554.4L1324.1 557.8L1323.9 567.4L1323.6 576.6L1322.4 576.9L1322.1 581.9L1321.9 604.8L1321.6 616.9L1316.4 616.9L1316.1 611.1L1315.4 592.9L1315.1 587.4L1314.6 579.6L1314.4 577.2L1310.6 576.9L1310.4 574.8L1310.1 571.6L1309.9 571.4L1305.1 571.1L1304.4 571.4L1304.1 565.3L1303.6 552.4L1303.4 548.9L1298.6 548.9L1298.4 547.8L1297.9 544.5L1297.6 543.5L1297.1 548.5L1296.9 548.9L1295.4 549.2L1295.1 555.4L1294.9 562.4L1294.6 565.6L1291.6 565.9L1291.4 576.1L1290.9 603.4L1290.6 605.6L1285.1 605.9L1284.9 611.4L1284.4 630.7L1284.1 634.0L1280.4 634.3L1280.1 638.6L1279.9 650.5L1279.6 661.9L1274.1 661.9L1273.9 648.9L1273.4 620.6L1272.9 590.6L1272.6 577.2L1272.1 576.2L1271.9 570.6L1271.1 491.5L1270.9 468.5L1266.1 468.5L1265.4 468.5L1264.9 460.5L1264.6 456.9L1262.4 457.6L1262.1 458.7L1261.4 473.1L1261.1 474.4L1256.9 474.4L1256.6 474.1L1256.1 470.1L1255.9 468.5L1249.6 468.5L1249.4 467.6L1249.1 415.7L1248.9 394.0L1248.1 344.0L1247.9 330.0L1247.4 323.0L1247.1 320.5L1245.1 319.9L1244.9 319.4L1243.4 315.0L1243.1 313.3L1242.1 303.3L1241.9 299.1L1241.4 290.4L1234.9 290.7L1234.6 299.1L1234.1 319.1L1233.9 320.0L1233.1 320.5L1232.9 344.9L1232.6 370.4L1230.1 371.0L1229.9 372.6L1229.4 426.4L1229.1 433.8L1224.9 434.1L1224.6 428.9L1224.4 381.7L1224.1 347.0L1223.9 319.8L1221.1 319.1L1220.9 320.6L1219.6 334.4L1219.4 339.9L1218.9 352.9L1218.6 354.0L1213.4 353.3L1213.1 340.3L1212.9 322.5L1212.6 311.6L1211.4 309.1L1211.1 310.7L1210.6 316.8L1210.4 319.5L1205.9 319.8L1205.6 317.1L1205.1 305.6L1204.9 302.5L1203.6 297.5L1203.4 296.8L1201.4 291.4L1200.9 287.2L1200.6 285.3L1198.6 285.6L1198.4 287.1L1197.9 294.9L1197.6 297.0L1194.4 297.2L1193.4 297.3L1192.9 304.6L1192.6 307.9L1188.1 308.2L1187.9 301.9L1187.6 289.2L1187.4 285.9L1184.9 285.7L1184.6 285.8L1184.1 289.1L1183.9 290.4L1178.1 290.7L1177.9 286.2L1176.9 266.7L1176.6 261.9L1176.1 254.1L1175.9 251.0L1171.6 250.7L1171.4 253.6L1170.9 261.4L1170.6 262.1L1166.6 262.4L1166.4 263.9L1165.1 283.9L1164.9 286.6L1164.4 289.9L1164.1 290.5L1162.1 290.7L1161.9 300.0L1161.6 310.0L1161.4 319.8L1157.9 322.6L1157.6 322.6L1154.9 319.9L1154.6 317.1L1154.1 310.6L1153.9 310.4L1151.4 310.6L1149.1 310.4L1148.9 313.4L1148.4 324.1L1148.1 325.9L1143.4 325.6L1143.1 324.5L1142.6 316.5L1142.4 314.0L1139.6 314.7L1139.4 331.5L1138.1 444.4L1137.9 446.0L1135.4 446.3L1135.1 480.2L1134.9 519.2L1134.6 536.8L1129.1 536.8L1128.9 525.6L1128.4 442.8L1128.1 440.5L1127.6 440.5L1127.4 453.8L1127.1 483.1L1126.9 508.6L1120.4 508.6L1120.1 497.1L1119.9 465.5L1119.6 435.1L1112.4 435.8L1112.1 442.6L1110.6 485.6L1110.4 495.4L1109.9 523.9L1109.6 531.5L1106.4 532.0L1105.4 532.2L1104.9 539.2L1104.6 542.4L1102.4 543.7L1102.1 547.3L1101.9 563.1L1101.6 571.5L1099.6 572.9L1099.4 578.3L1098.9 592.8L1098.6 594.0L1093.1 594.0L1092.9 590.2L1092.4 576.7L1092.1 574.3L1088.1 571.6L1087.9 570.3L1087.4 558.8L1087.1 554.7L1085.1 554.0L1084.9 551.9L1084.6 547.7L1084.1 532.2L1083.9 526.1L1082.6 528.0L1082.4 537.6L1082.1 562.2L1081.9 571.1L1078.4 571.1L1078.1 572.4L1077.9 574.9L1077.6 576.9L1069.1 576.9L1068.9 580.2L1068.4 604.6L1068.1 605.4L1067.1 605.9L1066.9 607.2L1066.6 616.8L1066.4 622.7L1061.6 622.7L1061.4 622.4L1060.9 587.4L1060.6 570.1L1060.1 538.1L1059.9 524.5L1058.9 509.5L1058.6 501.5L1057.9 467.0L1057.6 456.5L1056.9 428.7L1056.6 420.6L1055.6 395.6L1055.4 388.4L1054.9 373.4L1054.6 362.0L1054.1 337.8L1053.9 335.1L1053.4 331.4L1049.9 331.1L1049.6 330.6L1048.6 326.2L1048.4 328.9L1048.1 332.5L1047.9 346.3L1047.6 370.6L1047.4 376.8L1043.9 376.6L1043.6 379.8L1043.4 468.3L1043.1 531.2L1042.4 532.3L1042.1 535.3L1041.4 573.4L1041.1 577.0L1038.1 579.1L1034.6 577.0L1034.4 576.1L1033.9 572.1L1033.6 571.1L1028.9 571.1L1028.6 570.6L1028.1 562.4L1027.6 554.3L1026.9 549.3L1026.6 548.5L1017.6 548.5L1017.4 527.4L1017.1 458.8L1016.9 426.8L1016.4 419.3L1016.1 417.9L1014.9 417.3L1014.6 413.9L1014.1 405.9L1013.9 396.8L1013.6 387.3L1013.4 378.0L1012.1 376.7L1011.9 375.0L1011.4 359.5L1011.1 350.5L1010.6 326.8L1010.4 319.5L1005.1 319.5L1004.9 318.1L1004.4 308.1L1004.1 307.8L1000.6 307.8L1000.4 305.3L1000.1 302.1L999.9 300.5L998.1 300.5L997.9 303.0L997.4 308.1L992.4 307.8L992.1 308.5L991.6 310.5L991.4 310.5L988.9 308.0L988.6 307.4L988.1 300.4L987.9 297.7L986.6 300.2L986.4 303.0L985.9 316.0L985.6 319.5L981.1 319.5L980.9 322.6L980.4 345.6L980.1 353.0L978.4 353.2L978.1 355.2L977.1 390.2L976.9 396.7L975.9 416.1L975.6 416.5L971.1 416.5L970.9 416.3L969.9 407.1L969.6 405.9L967.6 405.6L967.4 423.0L967.1 446.4L966.6 470.1L966.4 474.0L961.9 474.0L961.6 457.1L961.4 421.2L961.1 411.3L960.4 410.8L960.1 397.0L959.6 355.0L959.4 349.6L956.1 348.9L955.9 346.7L955.6 343.9L955.4 342.4L952.6 343.1L952.4 360.9L952.1 382.6L951.9 393.7L946.9 393.7L946.6 387.7L945.9 354.7L945.6 342.3L945.1 314.2L944.9 308.1L942.6 307.8L942.4 306.9L941.9 286.9L941.6 284.4L940.4 283.1L940.1 287.0L939.9 290.4L937.9 290.4L937.6 302.2L937.4 319.5L932.9 319.5L932.6 319.0L932.1 310.0L931.9 305.3L931.4 294.5L931.1 290.6L926.9 290.4L926.6 291.0L925.4 294.8L924.9 300.3L924.6 302.7L920.6 302.7L920.4 299.1L920.1 297.6L917.4 296.9L915.4 278.9L915.1 275.4L914.6 262.4L914.4 258.3L912.6 257.0L912.4 258.0L911.9 267.4L911.6 267.8L908.4 267.8L908.1 280.2L907.9 290.7L902.6 290.7L902.4 280.7L902.1 266.0L901.9 265.0L898.9 265.6L898.6 266.3L898.4 267.6L898.1 273.5L897.9 296.0L897.6 307.8L884.4 307.8L884.1 311.5L883.9 319.5L879.9 319.5L879.6 328.4L879.4 338.2L879.1 346.1L878.6 359.0L878.4 364.9L876.1 365.6L875.9 366.4L875.4 373.7L875.1 376.3L873.1 376.5L872.9 377.0L872.4 378.5L872.1 378.8L869.1 379.4L868.9 385.9L868.4 400.9L868.1 406.1L866.9 412.3L866.6 419.0L866.4 430.3L866.1 439.2L865.1 440.4L864.9 440.3L864.4 439.7L864.1 443.0L863.9 445.9L858.6 445.5L858.4 442.2L857.9 432.6L857.6 428.7L854.4 428.5L854.1 428.2L853.1 423.4L852.9 422.8L849.6 420.2L849.4 419.9L848.9 403.6L848.6 395.3L847.4 345.3L847.1 335.8L846.6 319.3L846.4 314.2L844.1 314.9L843.9 317.1L843.1 330.6L840.9 330.9L840.6 331.4L839.9 344.0L839.6 348.1L831.6 348.1L831.4 342.6L831.1 330.5L830.9 320.0L826.1 320.0L825.9 328.9L825.6 338.6L825.4 348.1L815.4 348.1L815.1 347.1L814.6 340.3L814.4 335.1L813.9 319.1L813.6 313.9L813.1 309.7L812.9 308.8L809.4 309.1L808.9 312.1L808.6 313.5L805.9 314.1L805.6 315.5L803.4 341.4L803.1 342.6L799.4 342.8L799.1 345.1L798.6 360.7L798.4 365.5L794.1 365.5L793.4 365.5L793.1 361.3L792.9 360.6L791.9 360.1L791.6 360.2L791.1 371.7L790.9 376.7L786.1 376.7L785.9 369.1L785.4 352.6L784.9 335.6L784.6 328.3L783.4 341.0L783.1 342.8L779.6 343.3L779.4 344.5L778.9 347.8L778.6 348.1L773.9 348.4L773.1 348.1L768.1 348.4L767.9 353.1L767.4 400.1L767.1 416.8L763.6 418.2L762.1 420.0L761.9 422.3L760.9 432.3L760.6 435.0L759.4 453.7L759.1 456.7L758.1 461.2L757.6 463.5L756.9 467.5L756.6 468.3L752.1 468.0L751.9 467.4L751.4 461.7L750.9 456.1L749.9 447.1L749.6 445.9L742.6 446.2L742.4 446.6L741.1 451.6L740.9 455.2L740.4 466.4L740.1 468.3L736.1 468.7L735.9 469.1L735.4 472.6L735.1 473.8L731.1 474.1L726.6 474.5L726.4 474.8L725.4 478.0L725.1 500.2L724.9 530.5L724.6 548.7L719.6 548.7L719.4 526.0L719.1 490.5L714.9 489.8L714.6 491.7L714.1 496.2L713.9 496.4L708.9 496.4L708.6 496.9L707.6 502.6L707.4 503.0L704.9 503.6L704.6 503.8L704.1 506.3L703.9 507.3L702.1 508.0L701.9 508.5L701.1 510.6L700.9 510.7L699.6 508.8L699.4 508.7L693.9 508.7L693.6 496.7L693.1 445.7L692.9 434.5L688.1 434.3L687.9 434.6L687.4 437.8L687.1 438.9L685.1 439.6L684.9 440.2L684.4 442.2L684.1 441.9L683.6 439.9L683.4 439.6L681.1 438.9L680.9 438.1L680.1 435.1L679.9 434.3L674.1 434.5L673.4 434.3L662.1 433.8L661.9 433.6L661.6 430.8L660.9 414.2L660.6 410.0L659.6 400.6L659.4 399.9L658.1 399.3L657.9 401.2L657.4 405.4L650.1 405.8L647.4 405.1L647.1 405.7L646.6 410.2L646.4 411.6L645.4 411.1L644.9 410.9L642.6 411.1L642.4 410.4L641.9 406.9L641.6 406.0L638.1 405.7L637.9 407.7L637.6 409.8L637.4 412.1L636.9 438.9L636.6 450.8L633.9 451.1L633.6 454.2L633.4 460.9L633.1 469.9L632.9 479.7L632.6 485.5L627.4 484.6L627.1 483.2L626.1 464.4L625.9 460.9L625.1 452.3L624.9 451.0L623.1 449.6L622.6 465.9L622.4 468.5L618.4 468.5L618.1 466.9L617.1 437.3L616.9 434.1L613.1 434.4L612.9 435.1L612.1 443.4L611.9 445.6L608.1 446.0L607.9 444.7L606.9 434.1L606.6 435.3L605.4 445.3L601.9 447.4L601.6 447.4L598.9 446.0L596.4 447.4L594.6 446.1L594.4 445.7L593.1 441.3L592.9 438.5L592.4 430.0L592.1 428.5L589.6 427.9L589.4 427.5L588.9 392.5L588.6 376.9L587.4 376.9L587.1 379.8L586.6 399.6L586.4 405.7L581.4 405.3L580.4 406.0L580.1 408.1L579.4 414.6L579.1 416.2L577.1 416.9L576.9 417.4L575.6 421.8L575.4 425.1L574.9 433.3L574.6 434.0L571.1 434.3L570.9 434.0L569.9 423.4L569.6 418.0L569.1 401.0L568.9 396.4L567.6 388.9L567.4 384.1L566.9 372.1L566.6 371.1L561.9 371.1L561.6 371.2L559.6 373.9L559.4 373.7L557.6 370.8L556.1 368.5L555.9 368.4L555.4 370.2L555.1 370.8L553.1 371.1L552.9 371.7L552.4 373.7L552.1 377.2L551.4 391.6L551.1 393.6L546.6 393.6L546.4 392.2L545.9 384.7L545.6 384.5L545.1 392.0L544.9 393.6L539.9 393.6L539.6 394.0L538.9 423.4L538.6 427.8L537.9 427.8L537.6 428.8L537.1 432.8L536.9 433.7L534.9 434.3L534.6 444.6L534.1 469.1L533.9 489.6L533.6 510.7L533.4 531.4L528.4 531.4L528.1 530.7L526.9 525.4L526.6 509.4L526.1 471.4L525.9 464.1L525.6 457.7L525.4 451.4L521.4 451.1L521.1 448.2L520.4 436.0L520.1 434.6L516.1 434.4L515.9 434.1L514.6 427.2L514.4 426.0L512.4 418.7L512.1 416.4L511.1 404.5L510.1 389.5L509.9 389.3L508.9 389.3L508.6 390.3L508.1 409.8L507.9 418.2L506.6 431.9L506.4 435.2L505.9 443.4L505.6 445.6L497.9 445.3L497.6 439.8L497.1 416.8L496.9 411.8L494.9 411.1L492.9 411.7L492.6 412.4L492.1 423.9L491.9 428.5L486.9 428.5L484.9 427.9L484.6 428.0L484.1 432.0L483.9 433.6L480.4 434.3L480.1 440.7L479.6 460.2L479.4 462.7L475.1 462.8L474.6 463.0L474.4 469.0L473.9 500.0L473.6 511.5L472.4 546.5L472.1 552.4L471.4 568.5L471.1 571.0L468.6 575.2L467.4 578.3L467.1 578.7L464.4 578.0L464.1 577.6L462.1 572.2L461.9 572.9L461.1 575.1L460.6 576.5L454.1 576.5L453.9 573.5L453.4 567.1L450.6 566.4L450.4 566.7L449.1 571.1L448.9 571.5L439.6 571.5L437.4 572.2L436.9 575.4L436.6 576.8L428.9 576.6L428.6 576.4L428.1 572.9L427.9 571.4L425.1 570.8L424.9 571.2L423.6 575.9L423.4 582.0L423.1 594.5L422.9 605.5L417.9 605.5L417.6 604.1L417.4 596.7L414.9 596.7L414.6 600.8L414.4 605.5L409.1 605.5L408.9 604.1L408.6 599.6L402.1 595.3L401.9 588.8L400.9 560.8L400.6 554.3L400.1 550.3L399.9 548.7L391.9 548.7L391.6 549.9L391.4 582.4L391.1 605.5L372.6 605.5L372.4 598.3L372.1 595.3L369.9 595.3L369.6 599.7L369.4 605.5L352.4 605.5L352.1 602.3L351.9 595.3L351.1 595.3L350.9 596.0L350.6 601.8L350.4 605.5L345.1 605.5L344.9 601.4L344.6 588.0L342.6 588.0L342.4 590.3L341.9 602.3L341.6 605.5L329.6 605.5L329.4 605.3L328.9 586.3L328.6 577.8L326.1 576.6L322.1 574.9L321.9 568.0L321.6 560.5L321.4 555.3L320.4 552.7L319.9 551.3L317.9 548.9L317.6 547.3L317.1 541.3L316.9 540.0L309.9 540.0L309.6 540.4L306.9 550.8L306.6 550.8L301.1 548.8L300.9 548.3L299.6 544.6L299.4 544.6L296.9 548.4L296.6 549.6L296.1 565.1L295.9 571.3L291.6 571.3L291.4 565.5L290.9 550.0L290.6 548.7L288.4 548.7L288.1 557.6L287.9 582.0L287.6 605.5L285.4 605.5L285.1 614.5L284.9 627.0L284.6 634.5L278.1 634.5L277.9 629.8L277.6 622.3L277.4 617.1L273.6 617.1L273.4 617.3L272.9 638.5L272.6 646.1L272.4 652.4L272.1 656.4L268.4 656.4L268.1 657.8L267.6 662.3L267.4 662.9L260.6 662.9L260.4 663.6L259.1 668.0L258.1 673.7L257.9 676.5L257.1 685.0L256.9 685.7L254.6 688.2L254.4 688.3L251.6 685.5L251.4 685.0L249.4 679.6L247.6 675.6L247.4 671.6L247.1 663.5L246.9 656.6L246.1 662.2L245.9 662.9L224.4 662.9L224.1 664.7L223.9 669.7L223.6 674.5L218.6 674.5L218.4 674.3L217.9 669.3L217.6 668.7L215.1 668.1L214.9 667.6L214.6 664.7L214.4 662.9L211.1 662.9Z" fill="url(#sg)"/>
<path d="M217.6 643.9L217.9 640.4L218.1 640.4L218.1 671.8L217.9 669.3L217.6 668.7Z" fill="#5285ff"/>
<path d="M223.4 640.4L223.9 640.4L223.9 669.7L223.6 674.5L223.4 674.5Z" fill="#4488ff"/>
<path d="M232.9 629.4L233.4 623.7L234.4 623.6L234.4 662.9L232.9 662.9Z" fill="#5983ff"/>
<path d="M236.6 623.4L238.4 623.2L238.6 625.6L238.6 662.9L236.6 662.9Z" fill="#5a83ff"/>
<path d="M238.9 629.5L239.1 633.4L239.4 633.2L239.6 631.2L239.6 662.9L238.9 662.9Z" fill="#4887ff"/>
<path d="M240.6 623.4L240.9 623.2L245.9 623.2L246.1 625.0L246.6 634.8L246.6 658.5L246.1 662.2L245.9 662.9L240.6 662.9Z" fill="#5a83ff"/>
<path d="M272.9 590.4L273.1 583.5L273.6 582.3L274.1 582.0L276.9 580.8L277.1 581.2L277.6 583.2L277.9 583.6L277.9 629.8L277.6 622.3L277.4 617.1L273.6 617.1L273.4 617.3L272.9 638.5Z" fill="#6d7cff"/>
<path d="M278.4 583.6L281.1 583.2L283.4 582.6L283.6 579.5L284.1 555.5L284.1 634.5L278.4 634.5Z" fill="#5484ff"/>
<path d="M287.9 525.8L290.6 525.8L290.9 526.3L291.1 529.1L291.1 557.7L290.9 550.0L290.6 548.7L288.4 548.7L288.1 557.6L287.9 582.0Z" fill="#8570fd"/>
<path d="M291.1 529.1L291.9 537.5L292.1 538.7L293.6 536.2L293.9 526.0L294.1 507.0L294.1 571.3L291.6 571.3L291.4 565.5L291.1 557.7Z" fill="#727bff"/>
<path d="M294.1 507.0L294.4 488.0L294.6 480.5L295.1 479.7L295.4 479.6L300.1 479.6L300.4 481.4L300.9 492.0L300.9 548.3L299.6 544.6L299.4 544.6L296.9 548.4L296.6 549.6L296.1 565.1L295.9 571.3L294.1 571.3Z" fill="#9863fa"/>
<path d="M300.9 492.0L301.1 497.2L301.4 502.9L302.1 522.9L302.4 524.5L303.9 525.8L304.1 519.6L305.4 480.9L305.6 480.6L307.1 480.1L307.1 549.8L306.9 550.8L306.6 550.8L301.1 548.8L300.9 548.3Z" fill="#7b76fe"/>
<path d="M350.4 563.3L351.1 566.3L351.4 570.6L351.6 576.4L351.6 595.3L351.1 595.3L350.9 596.0L350.6 601.8L350.4 605.5Z" fill="#7579ff"/>
<path d="M372.1 583.0L372.6 582.7L372.6 605.5L372.4 598.3L372.1 595.3Z" fill="#6d7dff"/>
<path d="M381.1 585.0L381.6 585.4L382.4 586.3L383.9 588.3L384.9 588.4L385.9 588.4L386.1 586.9L386.4 566.9L386.4 605.5L381.1 605.5Z" fill="#6280ff"/>
<path d="M408.4 580.2L408.6 583.0L408.9 583.3L414.9 583.3L414.9 596.7L414.6 600.8L414.4 605.5L409.1 605.5L408.9 604.1L408.6 599.6L408.4 599.5Z" fill="#6280ff"/>
<path d="M417.4 583.8L418.1 584.0L419.4 583.4L419.6 581.8L420.1 570.3L420.1 605.5L417.9 605.5L417.6 604.1L417.4 596.7Z" fill="#6280ff"/>
<path d="M423.4 554.5L425.4 553.9L427.9 553.6L428.1 555.1L428.4 557.0L428.4 574.6L428.1 572.9L427.9 571.4L425.1 570.8L424.9 571.2L423.6 575.9L423.4 582.0Z" fill="#7977fe"/>
<path d="M434.1 554.5L434.4 554.4L434.6 555.7L435.1 559.9L435.4 560.8L436.9 562.8L436.9 575.4L436.6 576.8L434.1 576.7Z" fill="#6f7cff"/>
<path d="M437.9 549.6L438.1 543.1L443.6 542.8L443.9 546.5L444.1 550.4L444.1 571.5L439.6 571.5L437.9 572.0Z" fill="#7e74fe"/>
<path d="M449.9 552.1L450.4 551.9L450.6 552.0L451.1 552.8L451.1 566.5L450.6 566.4L450.4 566.7L449.9 568.4Z" fill="#7a76fe"/>
<path d="M453.9 556.0L454.4 556.5L456.1 558.9L456.4 559.0L458.9 555.2L458.9 576.5L454.1 576.5L453.9 573.5Z" fill="#707cff"/>
<path d="M464.1 554.0L464.4 553.9L464.6 553.7L464.6 578.1L464.4 578.0L464.1 577.6Z" fill="#6f7cff"/>
<path d="M538.9 331.4L542.6 331.1L542.9 332.0L543.4 342.5L543.6 346.7L543.9 348.2L543.9 393.6L539.9 393.6L539.6 394.0L538.9 423.4Z" fill="#d34bc9"/>
<path d="M545.4 351.9L546.1 351.6L546.1 388.5L545.9 384.7L545.6 384.5L545.4 388.2Z" fill="#cb4dd4"/>
<path d="M546.4 351.5L546.6 351.7L548.6 354.3L549.9 358.6L550.1 359.4L552.6 358.2L552.6 372.7L552.4 373.7L552.1 377.2L551.4 391.6L551.1 393.6L546.6 393.6L546.4 392.2Z" fill="#ba52e8"/>
<path d="M594.1 413.6L594.4 419.7L594.6 422.1L595.9 422.7L596.1 417.4L596.4 411.1L596.4 447.4L594.6 446.1L594.4 445.7L594.1 444.8Z" fill="#a45af8"/>
<path d="M601.6 415.3L602.1 422.0L602.4 422.7L605.9 422.7L605.9 441.3L605.4 445.3L601.9 447.4L601.6 447.4Z" fill="#a55af8"/>
<path d="M606.1 422.7L606.6 422.7L606.6 435.3L606.1 439.3Z" fill="#ae56f1"/>
<path d="M607.4 425.1L607.9 427.3L608.1 427.4L609.4 423.7L609.4 445.8L608.1 446.0L607.9 444.7L607.4 439.4Z" fill="#a55af7"/>
<path d="M612.1 423.0L612.9 422.9L612.9 435.1L612.1 443.4Z" fill="#ae56f1"/>
<path d="M614.6 420.3L615.1 418.0L615.4 417.3L617.6 417.3L617.6 452.1L617.1 437.3L616.9 434.1L614.6 434.2Z" fill="#b155ef"/>
<path d="M617.6 417.3L620.6 417.2L620.6 468.5L618.4 468.5L618.1 466.9L617.6 452.1Z" fill="#9c60f9"/>
<path d="M622.6 417.1L623.9 417.1L624.1 419.1L624.4 423.1L624.6 426.6L625.4 430.0L625.4 455.2L625.1 452.3L624.9 451.0L623.1 449.6L622.6 465.9Z" fill="#b155ef"/>
<path d="M637.1 348.1L640.9 348.1L641.1 348.9L641.6 352.7L641.9 354.8L642.4 359.2L642.4 410.4L641.9 406.9L641.6 406.0L638.1 405.7L637.9 407.7L637.6 409.8L637.4 412.1L637.1 425.5Z" fill="#cd4dd2"/>
<path d="M642.6 361.4L642.9 363.5L643.1 364.0L644.6 365.2L644.9 359.4L645.1 355.4L645.1 411.0L644.9 410.9L642.6 411.1Z" fill="#b355ed"/>
<path d="M651.6 362.3L652.9 379.8L653.1 382.3L654.4 387.3L654.6 382.1L655.1 364.1L655.1 405.5L651.6 405.7Z" fill="#b554ec"/>
<path d="M655.1 364.1L655.4 359.7L655.9 354.7L656.1 354.2L660.1 354.2L660.4 355.7L660.9 364.7L661.1 368.2L661.4 370.4L661.4 425.3L660.9 414.2L660.6 410.0L659.6 400.6L659.4 399.9L658.1 399.3L657.9 401.2L657.4 405.4L655.1 405.5Z" fill="#ca4dd5"/>
<path d="M672.9 412.8L673.4 419.6L674.4 420.6L674.4 434.5L674.1 434.5L673.4 434.3L672.9 434.2Z" fill="#aa58f4"/>
<path d="M674.9 421.0L676.1 417.2L676.4 416.5L676.4 434.4L674.9 434.5Z" fill="#aa58f4"/>
<path d="M687.6 411.3L689.9 411.2L690.1 411.1L690.6 409.4L690.9 408.9L691.4 410.9L691.6 411.6L693.1 411.9L693.1 445.7L692.9 434.5L688.1 434.3L687.9 434.6L687.6 436.2Z" fill="#b355ed"/>
<path d="M706.6 450.9L707.1 422.9L712.1 422.9L712.4 434.0L712.6 451.5L712.9 466.0L713.1 473.5L713.1 496.4L708.9 496.4L708.6 496.9L707.6 502.6L707.4 503.0L706.6 503.1Z" fill="#ae56f1"/>
<path d="M713.1 473.5L713.4 481.0L713.6 480.9L714.4 480.3L714.4 493.9L714.1 496.2L713.9 496.4L713.1 496.4Z" fill="#9168fb"/>
<path d="M715.1 479.6L715.6 460.6L715.6 490.0L715.1 489.9Z" fill="#9466fb"/>
<path d="M719.1 457.2L720.6 457.1L720.9 459.6L721.1 462.4L721.4 463.5L722.6 462.4L722.9 462.1L724.1 458.3L724.4 457.8L725.4 457.3L725.4 478.0L725.1 500.2L724.9 530.5L724.6 548.7L719.6 548.7L719.4 526.0L719.1 490.5Z" fill="#7c75fe"/>
<path d="M740.4 434.5L742.1 434.1L742.1 447.6L741.1 451.6L740.9 455.2L740.4 466.4Z" fill="#aa58f4"/>
<path d="M743.6 432.5L743.9 431.8L744.1 432.0L744.4 432.5L744.4 446.1L743.6 446.1Z" fill="#ab58f3"/>
<path d="M749.4 432.6L749.6 431.7L749.9 431.6L750.1 432.2L750.1 449.3L749.9 447.1L749.6 445.9L749.4 445.9Z" fill="#ab58f3"/>
<path d="M814.6 294.9L815.1 297.1L815.4 297.5L817.9 297.7L818.1 297.9L818.6 301.7L818.9 303.3L821.6 302.6L821.9 301.6L822.1 299.7L822.1 348.1L815.4 348.1L815.1 347.1L814.6 340.3Z" fill="#cd4dd2"/>
<path d="M825.4 297.2L829.4 297.2L829.6 298.1L829.9 299.5L830.1 300.4L831.4 300.5L831.4 342.6L831.1 330.5L830.9 320.0L826.1 320.0L825.9 328.9L825.6 338.6L825.4 348.1Z" fill="#df46ba"/>
<path d="M832.6 300.7L833.4 302.5L835.4 302.9L835.6 303.9L836.1 311.1L836.4 313.5L839.1 314.2L839.4 312.8L839.9 308.8L840.1 308.3L840.1 339.8L839.9 344.0L839.6 348.1L832.6 348.1Z" fill="#cd4dd2"/>
<path d="M879.6 268.5L882.1 268.4L882.1 319.5L879.9 319.5L879.6 328.4Z" fill="#e843ad"/>
<path d="M883.9 268.3L884.6 268.3L884.9 273.5L885.1 279.3L885.1 307.8L884.4 307.8L884.1 311.5L883.9 319.5Z" fill="#e843ad"/>
<path d="M885.1 279.3L885.4 285.2L885.6 285.2L887.4 284.6L887.6 283.7L887.9 280.2L887.9 307.8L885.1 307.8Z" fill="#dc48bf"/>
<path d="M892.9 276.8L893.4 283.0L893.6 278.2L894.1 268.1L894.1 307.8L892.9 307.8Z" fill="#dc48bf"/>
<path d="M897.9 250.8L898.4 250.8L898.6 249.6L899.1 245.8L899.4 245.2L899.9 245.1L899.9 265.4L898.9 265.6L898.6 266.3L898.4 267.6L898.1 273.5L897.9 296.0Z" fill="#ee41a5"/>
<path d="M900.6 245.0L900.9 224.7L901.1 205.3L906.9 205.0L907.1 217.9L907.1 290.7L902.6 290.7L902.4 280.7L902.1 266.0L901.9 265.0L900.6 265.2Z" fill="#f83d98"/>
<path d="M907.1 217.9L907.4 232.7L907.6 239.4L908.4 239.3L908.4 267.8L908.1 280.2L907.9 290.7L907.1 290.7Z" fill="#e146b7"/>
<path d="M909.9 236.9L910.4 217.8L910.6 216.9L915.6 216.6L915.9 223.7L916.1 231.0L916.4 236.3L916.6 240.5L916.6 290.1L915.4 278.9L915.1 275.4L914.6 262.4L914.4 258.3L912.6 257.0L912.4 258.0L911.9 267.4L911.6 267.8L909.9 267.8Z" fill="#f53e9c"/>
<path d="M916.9 244.6L917.1 248.7L917.9 259.4L918.1 262.8L919.1 268.5L920.9 271.2L921.4 272.2L921.9 273.3L922.1 272.2L922.9 260.3L923.6 249.6L923.6 302.7L920.6 302.7L920.4 299.1L920.1 297.6L917.4 296.9L916.9 292.4Z" fill="#dd47bc"/>
<path d="M924.1 245.3L928.9 245.0L929.1 246.6L929.6 253.8L929.9 256.4L930.6 261.6L930.6 290.6L926.9 290.4L926.6 291.0L925.4 294.8L924.9 300.3L924.6 302.7L924.1 302.7Z" fill="#ee41a5"/>
<path d="M931.1 265.1L931.4 266.1L932.1 268.3L932.4 268.5L936.9 268.3L937.1 266.8L937.4 263.5L937.6 262.4L937.6 302.2L937.4 319.5L932.9 319.5L932.6 319.0L932.1 310.0L931.9 305.3L931.4 294.5L931.1 290.6Z" fill="#d849c4"/>
<path d="M946.1 280.9L946.4 288.8L946.6 293.0L947.1 296.8L947.4 297.4L948.9 297.6L949.1 298.2L949.6 305.7L949.9 305.7L950.6 303.4L950.9 302.7L952.6 302.6L952.6 343.1L952.4 360.9L952.1 382.6L951.9 393.7L946.9 393.7L946.6 387.7L946.1 365.7Z" fill="#ba52e8"/>
<path d="M952.4 302.6L955.9 302.3L956.1 303.8L956.6 307.6L956.9 307.9L959.4 308.5L959.6 309.2L960.1 314.5L960.1 397.0L959.6 355.0L959.4 349.6L956.1 348.9L955.9 346.7L955.6 343.9L955.4 342.4L952.6 343.1L952.4 360.9Z" fill="#dd47bc"/>
<path d="M960.1 314.5L960.6 319.8L960.9 323.1L961.6 333.8L961.9 335.5L963.9 336.9L964.1 333.3L964.6 324.3L964.9 321.7L965.6 314.8L965.9 314.4L967.6 314.2L967.6 405.6L967.4 423.0L967.1 446.4L966.6 470.1L966.4 474.0L961.9 474.0L961.6 457.1L961.4 421.2L961.1 411.3L960.4 410.8L960.1 397.0Z" fill="#9a62fa"/>
<path d="M967.4 314.3L970.4 314.1L970.6 316.8L970.6 414.0L969.9 407.1L969.6 405.9L967.6 405.6L967.4 423.0Z" fill="#da49c1"/>
<path d="M970.6 316.8L971.1 325.5L971.4 328.9L972.1 338.3L972.4 341.3L974.6 341.9L974.9 341.2L975.9 320.5L976.4 310.5L976.4 406.4L975.9 416.1L975.6 416.5L971.1 416.5L970.9 416.3L970.6 414.0Z" fill="#b155ef"/>
<path d="M981.1 289.8L981.4 286.1L982.1 285.8L984.1 285.3L984.4 285.0L984.9 283.5L985.1 283.4L985.1 319.5L981.1 319.5Z" fill="#e345b5"/>
<path d="M985.6 284.9L985.9 285.3L987.1 285.3L987.1 299.2L986.6 300.2L986.4 303.0L985.9 316.0L985.6 319.5Z" fill="#e345b5"/>
<path d="M987.9 285.3L990.4 285.3L990.6 287.1L990.9 289.2L990.9 310.0L988.9 308.0L988.6 307.4L988.1 300.4L987.9 297.7Z" fill="#e345b5"/>
<path d="M991.4 293.2L991.6 295.0L991.9 296.3L991.9 309.5L991.6 310.5L991.4 310.5Z" fill="#db48c0"/>
<path d="M997.1 290.7L997.6 275.5L997.9 274.1L1002.9 273.8L1003.1 276.1L1003.9 284.0L1004.1 285.8L1004.9 290.7L1004.9 318.1L1004.4 308.1L1004.1 307.8L1000.6 307.8L1000.4 305.3L1000.1 302.1L999.9 300.5L998.1 300.5L997.9 303.0L997.4 308.1L997.1 308.1Z" fill="#e743b0"/>
<path d="M1021.4 417.2L1021.6 423.8L1021.9 431.1L1022.4 449.9L1022.6 450.9L1023.1 451.3L1023.4 439.2L1023.6 417.3L1023.6 548.5L1021.4 548.5Z" fill="#7c75fe"/>
<path d="M1025.4 417.2L1028.4 417.0L1028.4 566.5L1028.1 562.4L1027.6 554.3L1026.9 549.3L1026.6 548.5L1025.4 548.5Z" fill="#b155ef"/>
<path d="M1062.1 396.4L1062.6 441.9L1062.9 462.5L1063.4 481.7L1063.6 488.3L1063.9 485.8L1064.1 467.5L1064.4 445.6L1066.6 445.6L1066.6 616.8L1066.4 622.7L1062.1 622.7Z" fill="#5a82ff"/>
<path d="M1066.6 445.6L1069.6 445.6L1069.9 450.3L1070.4 490.0L1070.4 576.9L1069.1 576.9L1068.9 580.2L1068.4 604.6L1068.1 605.4L1067.1 605.9L1066.9 607.2L1066.6 616.8Z" fill="#a55af7"/>
<path d="M1122.4 369.3L1122.6 373.6L1123.4 389.6L1123.6 397.1L1124.1 424.6L1124.4 433.7L1127.6 434.2L1127.6 440.5L1127.4 453.8L1127.1 483.1L1126.9 508.6L1122.4 508.6Z" fill="#8c6cfc"/>
<path d="M1128.4 434.3L1131.1 435.1L1131.4 428.9L1131.6 414.3L1131.9 400.3L1132.6 381.6L1132.9 374.8L1133.6 353.4L1133.9 343.9L1134.1 332.4L1134.1 536.8L1129.1 536.8L1128.9 525.6L1128.4 442.8Z" fill="#8173fd"/>
<path d="M1142.4 302.5L1142.9 302.4L1142.9 320.5L1142.6 316.5L1142.4 314.0Z" fill="#dd47bc"/>
<path d="M1143.1 302.4L1143.9 302.4L1144.1 303.4L1144.6 305.9L1144.9 305.8L1145.9 304.8L1146.1 304.4L1146.6 299.2L1146.9 297.0L1148.6 296.7L1148.6 318.7L1148.4 324.1L1148.1 325.9L1143.4 325.6L1143.1 324.5Z" fill="#d64ac6"/>
<path d="M1148.6 296.7L1148.9 296.7L1149.1 294.2L1149.6 282.6L1149.9 279.8L1152.6 278.4L1154.6 279.4L1154.6 317.1L1154.1 310.6L1153.9 310.4L1151.4 310.6L1149.1 310.4L1148.9 313.4L1148.6 318.7Z" fill="#e544b2"/>
<path d="M1155.6 280.8L1156.1 288.8L1156.4 291.8L1157.6 296.8L1157.9 294.1L1158.4 282.1L1158.6 279.8L1161.4 279.5L1161.6 277.7L1161.6 310.0L1161.4 319.8L1157.9 322.6L1157.6 322.6L1155.6 320.6Z" fill="#d74ac5"/>
<path d="M1180.9 236.9L1181.1 239.8L1183.9 239.7L1183.9 290.4L1180.9 290.6Z" fill="#e146b7"/>
<path d="M1184.6 239.7L1187.6 239.6L1187.6 289.2L1187.4 285.9L1184.9 285.7L1184.6 285.8Z" fill="#f040a3"/>
<path d="M1187.6 239.6L1191.9 239.5L1192.1 243.4L1192.6 253.1L1192.9 254.5L1193.6 257.3L1193.9 256.7L1194.4 246.1L1194.6 245.6L1194.9 245.6L1194.9 297.2L1194.4 297.2L1193.4 297.3L1192.9 304.6L1192.6 307.9L1188.1 308.2L1187.9 301.9L1187.6 289.2Z" fill="#db48bf"/>
<path d="M1197.9 245.4L1199.1 245.3L1199.4 236.2L1199.6 223.3L1199.9 222.8L1204.4 222.5L1204.6 224.4L1205.1 244.9L1205.4 254.4L1205.4 311.3L1205.1 305.6L1204.9 302.5L1203.6 297.5L1203.4 296.8L1201.4 291.4L1200.9 287.2L1200.6 285.3L1198.6 285.6L1198.4 287.1L1197.9 294.9Z" fill="#f43f9e"/>
<path d="M1205.6 263.7L1205.9 270.3L1207.1 290.3L1207.4 291.9L1208.1 293.8L1208.4 293.1L1208.6 270.6L1208.6 319.6L1205.9 319.8L1205.6 317.1Z" fill="#d849c4"/>
<path d="M1210.4 268.1L1212.9 267.9L1212.9 322.5L1212.6 311.6L1211.4 309.1L1211.1 310.7L1210.6 316.8L1210.4 319.5Z" fill="#e843ad"/>
<path d="M1212.9 267.9L1213.6 267.9L1213.9 272.4L1214.1 280.9L1214.4 285.5L1215.1 296.2L1215.4 297.8L1216.6 301.6L1216.9 301.0L1218.1 297.3L1219.4 297.1L1219.4 339.9L1218.9 352.9L1218.6 354.0L1213.4 353.3L1213.1 340.3L1212.9 322.5Z" fill="#ca4dd5"/>
<path d="M1219.4 297.1L1220.1 297.0L1220.4 294.3L1220.9 278.7L1221.1 274.3L1224.4 274.1L1224.4 381.7L1224.1 347.0L1223.9 319.8L1221.1 319.1L1220.9 320.6L1219.6 334.4L1219.4 339.9Z" fill="#e643b0"/>
<path d="M1234.1 279.6L1234.6 279.6L1234.9 279.2L1234.9 290.7L1234.6 299.1L1234.1 319.1Z" fill="#e544b2"/>
<path d="M1246.6 285.6L1247.4 285.6L1247.4 323.0L1247.1 320.5L1246.6 320.4Z" fill="#e345b5"/>
<path d="M1256.4 372.3L1256.6 407.3L1256.9 419.1L1257.4 437.1L1257.6 440.4L1258.4 450.1L1258.6 447.2L1259.4 436.9L1259.6 434.3L1261.6 433.7L1261.9 429.6L1262.4 414.3L1262.4 457.6L1262.1 458.7L1261.4 473.1L1261.1 474.4L1256.9 474.4L1256.6 474.1L1256.4 472.1Z" fill="#9a62fa"/>
<path d="M1262.4 414.3L1262.6 411.4L1265.4 411.2L1265.4 468.5L1264.9 460.5L1264.6 456.9L1262.4 457.6Z" fill="#b355ed"/>
<path d="M1265.6 411.2L1267.1 411.1L1267.4 407.9L1267.6 405.6L1271.4 405.3L1271.4 517.9L1271.1 491.5L1270.9 468.5L1265.6 468.5Z" fill="#b554ec"/>
<path d="M1322.1 463.1L1325.6 463.1L1325.9 476.4L1326.1 492.6L1326.1 554.4L1324.4 554.4L1324.1 557.8L1323.9 567.4L1323.6 576.6L1322.4 576.9L1322.1 581.9Z" fill="#9e5ef9"/>
<path d="M1325.9 476.4L1326.1 492.6L1326.4 501.0L1328.1 502.9L1328.4 502.5L1328.9 499.0L1329.1 493.0L1329.4 481.6L1329.4 538.5L1328.6 553.5L1328.4 554.4L1325.9 554.4Z" fill="#7977fe"/>
<path d="M1334.9 308.3L1335.6 308.3L1335.9 309.5L1336.1 323.0L1336.4 333.7L1336.9 344.7L1336.9 412.3L1335.4 412.2L1335.1 443.7L1334.9 497.9Z" fill="#db48bf"/>
<path d="M1339.6 342.1L1339.9 338.4L1340.1 337.6L1341.6 337.6L1341.6 416.7L1340.1 416.6L1339.6 416.5Z" fill="#d14bcd"/>
<path d="M1343.4 337.5L1347.1 337.3L1347.4 328.9L1347.9 305.1L1347.9 422.1L1343.9 422.4L1343.6 421.6L1343.4 419.2Z" fill="#af56f0"/>
<path d="M1381.9 308.5L1386.4 308.3L1386.6 310.2L1387.1 316.4L1388.1 329.2L1388.4 330.4L1389.4 330.5L1389.4 422.1L1388.9 390.6L1388.6 376.5L1385.1 375.8L1384.9 375.1L1384.4 372.6L1384.1 372.2L1382.6 372.8L1382.4 376.4L1381.9 453.9Z" fill="#db48bf"/>
<path d="M1399.9 297.0L1402.1 296.9L1402.4 303.7L1402.6 312.5L1402.9 318.7L1402.9 350.6L1402.6 349.2L1401.1 348.6L1400.9 353.8L1400.4 372.3L1400.1 387.2L1399.9 405.1Z" fill="#df46ba"/>
<path d="M1402.6 312.5L1402.9 318.7L1403.9 331.2L1404.1 326.8L1404.9 308.1L1405.1 302.7L1405.1 359.5L1403.9 359.5L1403.6 359.3L1402.9 350.6L1402.6 349.2Z" fill="#c84ed8"/>
<path d="M1407.1 302.1L1408.1 302.0L1409.4 301.8L1409.4 349.5L1408.6 358.9L1408.4 359.5L1407.1 359.5Z" fill="#c84ed8"/>
<path d="M1411.6 301.7L1412.6 301.6L1412.9 299.0L1412.9 348.3L1411.6 348.4Z" fill="#cd4dd2"/>
<path d="M1414.9 268.1L1419.1 267.8L1419.4 272.8L1419.9 286.8L1420.1 290.5L1420.4 293.4L1420.4 319.5L1418.6 319.5L1418.4 319.1L1417.1 314.7L1416.9 316.1L1415.6 331.1L1415.4 336.0L1414.9 347.2Z" fill="#e943ad"/>
<path d="M1421.9 296.7L1422.9 296.7L1422.9 316.6L1422.6 318.7L1422.4 319.5L1421.9 319.5Z" fill="#d849c4"/>
<path d="M1426.9 296.8L1428.1 296.8L1428.1 319.5L1427.4 319.5L1427.1 318.9L1426.9 317.2Z" fill="#d849c4"/>
<path d="M1430.6 293.0L1430.9 291.4L1434.9 291.1L1434.9 323.4L1434.6 308.5L1433.1 308.5L1432.9 310.7L1432.4 318.2L1432.1 319.5L1430.6 319.5Z" fill="#e146b7"/>
<path d="M1456.6 357.4L1456.9 370.1L1457.1 377.3L1459.9 377.1L1459.9 457.3L1459.6 464.8L1459.4 468.9L1456.6 468.9Z" fill="#9c60f9"/>
<path d="M1459.9 377.1L1462.6 377.0L1462.9 379.9L1463.1 397.5L1463.1 451.5L1460.1 451.5L1459.9 457.3Z" fill="#c150e1"/>
<path d="M1463.4 415.1L1463.6 428.2L1467.1 428.9L1467.4 430.1L1467.9 433.6L1468.1 429.1L1468.9 410.8L1469.1 405.6L1471.1 405.5L1471.1 457.3L1470.6 491.0L1470.4 496.5L1465.1 496.5L1464.9 487.8L1464.4 456.8L1464.1 451.5L1463.4 451.5Z" fill="#9168fb"/>
<path d="M1470.9 405.5L1473.1 405.4L1473.1 460.2L1472.9 457.3L1471.1 457.3L1470.9 474.1Z" fill="#b554ec"/>
<path d="M1473.4 405.4L1474.4 405.4L1474.6 410.2L1475.1 425.9L1475.4 426.9L1477.4 412.2L1477.9 400.1L1477.9 468.9L1473.6 468.9L1473.4 466.8Z" fill="#9c60f9"/>
<path d="M1477.9 400.1L1478.1 394.4L1483.9 394.0L1484.1 397.0L1484.6 404.5L1484.9 406.7L1485.4 410.7L1485.4 423.1L1482.4 423.1L1482.1 424.5L1481.4 443.9L1481.1 445.6L1479.4 445.6L1479.1 453.4L1478.9 466.7L1478.6 468.9L1477.9 468.9Z" fill="#ba52e8"/>
<path d="M1486.1 416.5L1488.4 416.7L1488.4 458.0L1486.9 446.0L1486.6 439.2L1486.1 423.7Z" fill="#b155ef"/>
<path d="M1538.1 525.2L1538.4 561.6L1538.6 565.1L1539.4 565.5L1539.6 564.4L1540.1 554.4L1540.1 605.6L1538.1 605.6Z" fill="#6280ff"/>
<path d="M1540.6 554.0L1542.9 554.0L1542.9 621.4L1542.6 611.7L1542.4 605.6L1540.6 605.6Z" fill="#7977fe"/>
<path d="M1571.6 556.3L1571.9 554.0L1574.4 553.6L1574.6 553.2L1574.6 610.4L1574.4 605.6L1571.6 605.6Z" fill="#7a77fe"/>
<path d="M1585.4 577.3L1588.6 577.3L1588.9 578.6L1588.9 605.6L1585.6 605.6L1585.4 611.4Z" fill="#6f7cff"/>
<path d="M1591.4 581.7L1591.6 581.6L1591.9 581.0L1591.9 605.6L1591.4 605.6Z" fill="#6280ff"/>
<path d="M1592.4 580.8L1592.6 581.7L1592.9 582.4L1594.4 582.4L1594.6 578.4L1594.6 605.6L1592.4 605.6Z" fill="#6280ff"/>
<path d="M1598.9 554.0L1599.1 521.8L1599.4 484.9L1599.6 468.2L1602.9 468.2L1602.9 576.5L1599.1 576.5L1598.9 578.7Z" fill="#9c60f9"/>
<path d="M1604.1 468.2L1604.4 472.9L1604.9 500.4L1605.1 515.1L1605.6 546.6L1605.9 553.7L1606.6 552.1L1606.9 540.6L1607.6 466.3L1607.6 576.5L1604.1 576.5Z" fill="#707cff"/>
<path d="M1618.4 552.3L1618.6 566.3L1618.9 578.0L1620.1 576.7L1620.4 574.0L1620.9 559.0L1621.1 554.7L1621.1 605.6L1618.4 605.6Z" fill="#6280ff"/>
<path d="M1621.4 554.6L1623.1 554.0L1623.4 553.5L1623.9 552.0L1624.1 552.4L1624.6 553.9L1624.6 627.3L1624.1 611.8L1623.9 605.6L1621.4 605.6Z" fill="#7a77fe"/>
<path d="M1637.4 640.2L1639.9 640.5L1640.1 643.5L1640.6 651.0L1640.9 651.5L1642.9 651.5L1642.9 681.9L1642.6 689.1L1642.4 691.5L1637.9 691.5L1637.6 690.6L1637.4 688.7Z" fill="#3c8aff"/>
<path d="M1642.9 651.5L1646.1 651.5L1646.1 677.7L1645.9 676.2L1645.6 675.4L1643.1 674.7L1642.9 681.9Z" fill="#4d86ff"/>
<path d="M1646.9 651.5L1647.1 658.0L1647.4 665.5L1647.6 668.9L1647.6 679.8L1646.9 679.8Z" fill="#4189ff"/>
<path d="M1648.4 669.2L1649.9 669.6L1650.1 669.3L1650.6 660.8L1650.9 657.3L1652.6 657.0L1652.9 654.1L1653.1 649.2L1653.4 645.6L1654.6 645.1L1654.6 678.6L1654.4 685.8L1654.1 691.5L1649.1 691.5L1648.9 690.1L1648.4 680.1Z" fill="#3c8aff"/>
<path d="M1658.9 637.0L1659.4 597.7L1659.6 594.4L1663.9 594.2L1663.9 674.4L1663.4 674.4L1663.1 673.3L1662.6 665.3L1662.4 662.8L1658.9 663.0Z" fill="#677eff"/>
<path d="M1664.4 594.7L1664.9 615.2L1665.1 618.0L1669.4 617.3L1669.4 645.0L1669.1 654.6L1668.9 667.0L1668.6 674.4L1664.4 674.4Z" fill="#4488ff"/>
<path d="M1678.9 617.2L1679.1 634.7L1679.4 639.8L1681.4 639.9L1681.4 674.4L1678.9 674.4Z" fill="#4488ff"/>
<path d="M1682.9 640.0L1684.9 640.1L1685.1 640.9L1685.1 674.4L1684.9 666.1L1684.6 657.3L1683.6 657.3L1683.4 661.7L1682.9 673.5Z" fill="#5285ff"/>
<path d="M1685.4 642.8L1685.6 644.7L1685.9 646.1L1687.1 650.5L1687.4 650.8L1691.4 651.4L1691.6 650.9L1692.1 646.9L1692.4 645.6L1692.6 645.5L1692.6 672.2L1692.4 673.9L1692.1 674.4L1685.4 674.4Z" fill="#4488ff"/>
<path d="M1693.9 641.0L1694.4 626.0L1694.6 623.1L1699.4 623.1L1699.6 623.5L1700.1 627.0L1700.1 639.3L1699.6 639.8L1699.4 644.2L1698.9 656.0L1698.6 657.0L1695.4 657.3L1695.1 658.4L1694.6 666.4L1694.4 669.0L1693.9 669.2Z" fill="#5a83ff"/>
<g font-size="27.3" fill="#454b55" text-anchor="end">
<text x="166.1" y="827.9">-3</text>
<text x="166.1" y="704.6">-2</text>
<text x="166.1" y="581.4">-1</text>
<text x="166.1" y="458.1">0</text>
<text x="166.1" y="334.8">1</text>
<text x="166.1" y="211.6">2</text>
<text x="166.1" y="88.3">3</text>
</g>
<g font-size="25" fill="#454b55" text-anchor="middle">
<text x="363.1" y="890.2">Oct 2022</text>
<text x="552.1" y="890.2">Apr 2023</text>
<text x="742.1" y="890.2">Oct 2023</text>
<text x="932.1" y="890.2">Apr 2024</text>
<text x="1122.1" y="890.2">Oct 2024</text>
<text x="1311.1" y="890.2">Apr 2025</text>
<text x="1501.1" y="890.2">Oct 2025</text>
<text x="1690.1" y="890.2">Apr 2026</text>
</g>
<text transform="translate(91.3 448.7) rotate(-90)" font-size="30.4" letter-spacing="0.07" font-weight="bold" fill="#343841" text-anchor="middle">Price &amp; Sentiment Momentum (Z-Score)</text>
<rect x="571" y="955" width="28" height="28" fill="#9d9dc4"/>
<text x="620.5" y="978.3" font-size="26.9" letter-spacing="0.3" fill="#22242a">Panic</text>
<rect x="714.2" y="955" width="28" height="28" fill="#b0b0d1"/>
<text x="764" y="978.3" font-size="26.9" letter-spacing="0.3" fill="#22242a">Fear</text>
<rect x="845.2" y="955" width="28" height="28" fill="#cdd0d5"/>
<text x="894.5" y="978.3" font-size="26.9" letter-spacing="0.3" fill="#22242a">Neutral</text>
<rect x="1018.2" y="955" width="28" height="28" fill="#ffbfb7"/>
<text x="1068.5" y="978.3" font-size="26.9" letter-spacing="0.3" fill="#22242a">Greed</text>
<rect x="1173.2" y="955" width="28" height="28" fill="#ffa3a3"/>
<text x="1223.5" y="978.3" font-size="26.9" letter-spacing="0.3" fill="#22242a">Euphoria</text>
<text x="184.3" y="1065.6" font-size="27.1" letter-spacing="0.33" fill="#6d7581">Regime Signal: Panic as of 2026-04-12</text>
</svg></body></html>
